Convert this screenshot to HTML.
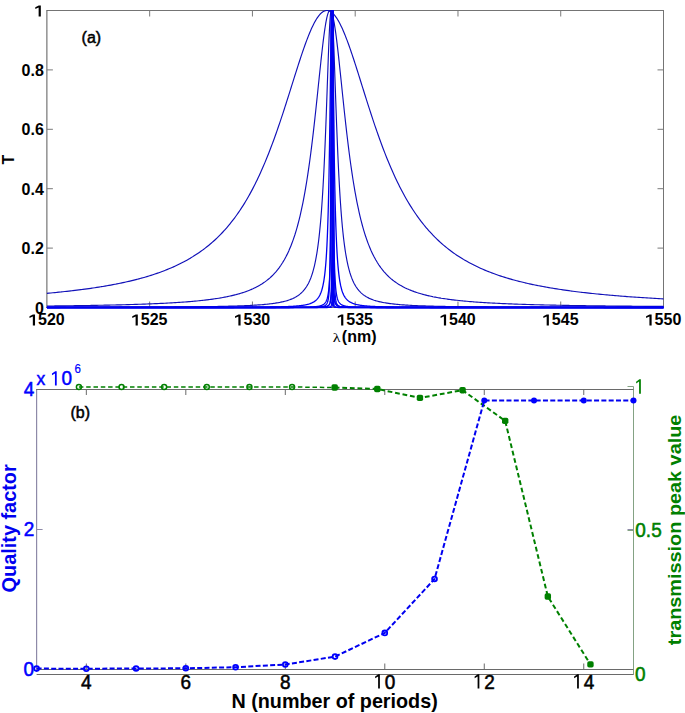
<!DOCTYPE html>
<html><head><meta charset="utf-8"><style>
html,body{margin:0;padding:0;background:#fff;width:685px;height:713px;overflow:hidden}
svg{display:block}
</style></head><body>
<svg width="685" height="713" viewBox="0 0 685 713">
<rect width="685" height="713" fill="#fff"/>
<g stroke="#747474" stroke-width="1" fill="none">
<path d="M46.4,10.5H664.0M663.5,10.5V308.0M46.4,307.5H664.0"/>
</g>
<path d="M46.9,10.5V307.5" stroke="#5a5a5a" stroke-width="1" fill="none"/>
<g stroke="#7a7a7a" stroke-width="1" fill="none">
<path d="M149.67,307.5V301.5M149.67,10.5V16.5"/>
<path d="M252.43,307.5V301.5M252.43,10.5V16.5"/>
<path d="M355.20,307.5V301.5M355.20,10.5V16.5"/>
<path d="M457.97,307.5V301.5M457.97,10.5V16.5"/>
<path d="M560.73,307.5V301.5M560.73,10.5V16.5"/>
<path d="M46.9,248.10H52.9M663.5,248.10H657.5"/>
<path d="M46.9,188.70H52.9M663.5,188.70H657.5"/>
<path d="M46.9,129.30H52.9M663.5,129.30H657.5"/>
<path d="M46.9,69.90H52.9M663.5,69.90H657.5"/>
</g>
<g fill="none" stroke="#1010b8" stroke-width="1.15" stroke-linejoin="round">
<path d="M46.90,293.32 48.90,293.14 50.85,292.96 52.90,292.77 54.90,292.58 56.23,292.45 56.90,292.38 58.90,292.18 60.90,291.97 61.53,291.91 62.90,291.77 64.90,291.55 66.77,291.35 68.90,291.11 70.90,290.88 71.94,290.76 72.90,290.65 74.90,290.41 76.90,290.17 78.90,289.92 80.90,289.67 82.07,289.52 82.90,289.41 84.90,289.14 86.90,288.87 88.90,288.59 90.90,288.31 91.93,288.16 92.90,288.02 94.90,287.72 96.75,287.43 98.90,287.10 100.90,286.78 101.52,286.68 102.90,286.45 104.90,286.11 106.21,285.89 106.90,285.77 108.90,285.41 110.84,285.06 112.90,284.68 114.90,284.30 115.41,284.20 116.90,283.91 118.90,283.50 119.91,283.30 120.90,283.09 122.90,282.67 124.34,282.36 124.90,282.23 126.90,281.79 128.71,281.37 128.90,281.33 130.90,280.86 132.90,280.38 134.90,279.88 136.90,279.37 137.27,279.27 138.90,278.84 140.90,278.30 141.45,278.15 142.90,277.75 144.90,277.18 145.57,276.98 146.90,276.59 148.90,275.99 149.63,275.76 150.90,275.36 152.90,274.72 153.63,274.48 154.90,274.06 156.90,273.38 157.57,273.15 158.90,272.68 160.90,271.95 161.44,271.75 162.90,271.21 164.90,270.44 165.26,270.30 166.90,269.65 168.90,268.83 170.90,267.98 172.72,267.19 172.90,267.11 174.90,266.21 176.36,265.54 176.90,265.28 178.90,264.32 179.95,263.81 180.90,263.33 182.90,262.30 183.47,262.00 184.90,261.24 186.90,260.15 188.90,259.01 190.36,258.16 190.90,257.84 192.90,256.62 193.71,256.11 194.90,255.36 196.90,254.06 198.90,252.71 200.26,251.76 200.90,251.31 202.90,249.86 203.46,249.45 204.90,248.36 206.59,247.04 206.90,246.80 208.90,245.18 209.68,244.53 210.90,243.50 212.71,241.93 212.90,241.76 214.90,239.95 215.69,239.22 216.90,238.08 218.62,236.41 218.90,236.13 220.90,234.11 221.49,233.49 222.90,232.00 224.31,230.47 224.90,229.82 226.90,227.55 227.09,227.33 228.90,225.19 229.81,224.09 230.90,222.73 232.48,220.73 232.90,220.18 234.90,217.53 235.10,217.26 236.90,214.77 237.68,213.67 238.90,211.91 240.20,209.98 240.90,208.92 242.68,206.17 242.90,205.82 244.90,202.60 245.11,202.26 246.90,199.24 247.49,198.23 248.90,195.76 249.82,194.10 250.90,192.13 252.11,189.87 252.90,188.37 254.36,185.54 254.90,184.46 256.56,181.11 256.90,180.40 258.71,176.60 258.90,176.19 260.82,172.00 260.90,171.82 262.88,167.33 264.90,162.61 266.88,157.80 268.82,152.95 268.90,152.74 270.71,148.06 270.90,147.56 272.56,143.13 272.90,142.23 274.38,138.19 274.90,136.74 276.15,133.24 276.90,131.09 277.88,128.29 278.90,125.31 279.57,123.35 280.90,119.39 281.22,118.44 282.83,113.56 282.90,113.34 284.40,108.73 284.90,107.19 285.94,103.96 286.90,100.95 287.44,99.26 288.90,94.64 290.32,90.11 290.90,88.28 291.71,85.69 292.90,81.90 293.07,81.38 294.38,77.18 294.90,75.54 295.67,73.11 296.90,69.23 298.13,65.38 298.90,63.00 299.31,61.73 300.46,58.22 300.90,56.90 301.58,54.87 302.67,51.66 302.90,50.98 303.72,48.61 304.74,45.72 304.90,45.27 305.73,42.97 306.69,40.38 306.90,39.84 307.63,37.93 308.53,35.64 308.90,34.72 309.40,33.48 310.25,31.47 310.90,29.97 311.07,29.59 311.86,27.83 312.63,26.21 312.90,25.64 313.36,24.70 314.08,23.31 314.76,22.03 314.90,21.78 315.43,20.85 316.06,19.76 316.68,18.77 316.90,18.42 317.27,17.87 317.83,17.05 318.38,16.30 318.90,15.62 319.40,15.01 319.88,14.46 320.33,13.97 320.77,13.53 321.19,13.13 321.59,12.78 321.97,12.47 322.33,12.19 322.67,11.95 322.90,11.80 323.30,11.55 323.60,11.39 323.87,11.25 324.13,11.12 324.37,11.02 324.60,10.93 324.82,10.85 325.02,10.79 325.21,10.73 325.38,10.69 325.55,10.65 325.70,10.62 325.96,10.57 326.19,10.54 326.37,10.52 326.52,10.51 326.69,10.50 326.84,10.50 327.00,10.50 327.16,10.51 327.35,10.52 327.52,10.53 327.72,10.55 327.96,10.59 328.25,10.65 328.42,10.69 328.59,10.73 328.78,10.79 328.98,10.85 329.20,10.93 329.43,11.02 329.67,11.12 329.93,11.25 330.20,11.39 330.50,11.55 330.80,11.74 331.13,11.95 331.47,12.19 331.83,12.47 332.21,12.78 332.61,13.13 332.90,13.40 333.47,13.97 333.92,14.46 334.40,15.01 334.90,15.62 335.42,16.30 335.97,17.05 336.53,17.87 336.90,18.42 337.12,18.77 337.74,19.76 338.38,20.85 338.90,21.78 339.04,22.03 339.72,23.31 340.44,24.70 340.90,25.64 341.17,26.21 341.94,27.84 342.73,29.59 342.90,29.98 343.55,31.47 344.39,33.49 344.90,34.73 345.27,35.65 346.17,37.95 346.90,39.85 347.11,40.40 348.07,42.99 348.90,45.30 349.06,45.74 350.08,48.64 350.90,51.01 351.13,51.70 352.22,54.91 352.90,56.95 353.34,58.27 354.49,61.78 354.90,63.06 355.67,65.44 356.88,69.24 358.13,73.19 358.90,75.63 359.42,77.27 360.73,81.47 360.90,82.01 362.09,85.80 362.90,88.40 363.48,90.24 364.90,94.78 366.36,99.41 366.90,101.11 367.86,104.13 368.90,107.38 369.40,108.92 370.90,113.55 370.97,113.77 372.58,118.67 372.90,119.62 374.23,123.60 374.90,125.57 375.92,128.56 376.90,131.38 377.65,133.54 378.90,137.05 379.42,138.51 380.90,142.57 381.24,143.48 382.90,147.94 383.09,148.43 384.90,153.14 384.98,153.35 386.90,158.18 388.90,163.05 390.90,167.78 392.90,172.34 392.98,172.52 394.90,176.73 395.09,177.14 396.90,180.97 397.24,181.69 398.90,185.06 399.44,186.14 400.90,189.00 401.69,190.50 402.90,192.79 403.98,194.77 404.90,196.44 406.31,198.93 406.90,199.95 408.69,202.98 408.90,203.33 410.90,206.58 411.12,206.93 412.90,209.70 413.60,210.77 414.90,212.71 416.12,214.49 416.90,215.60 418.70,218.10 418.90,218.38 420.90,221.05 421.32,221.60 422.90,223.63 423.99,224.99 424.90,226.10 426.71,228.26 426.90,228.48 428.90,230.77 429.49,231.43 430.90,232.97 432.31,234.48 432.90,235.10 434.90,237.14 435.19,237.42 436.90,239.10 438.11,240.26 438.90,241.00 440.90,242.82 441.09,242.99 442.90,244.58 444.12,245.62 444.90,246.27 446.90,247.90 447.21,248.15 448.90,249.48 450.34,250.58 450.90,250.99 452.90,252.46 453.54,252.91 454.90,253.87 456.78,255.16 458.90,256.55 460.09,257.31 460.90,257.82 462.90,259.05 463.44,259.38 464.90,260.24 466.86,261.36 468.90,262.49 470.33,263.26 470.90,263.56 472.90,264.60 473.85,265.08 474.90,265.60 476.90,266.57 477.44,266.83 478.90,267.51 480.90,268.42 481.08,268.50 482.90,269.30 484.78,270.10 486.90,270.98 488.54,271.64 488.90,271.78 490.90,272.56 492.36,273.11 492.90,273.31 494.90,274.04 496.23,274.52 496.90,274.75 498.90,275.44 500.17,275.87 500.90,276.11 502.90,276.75 504.17,277.16 504.90,277.38 506.90,278.00 508.23,278.39 508.90,278.59 510.90,279.17 512.35,279.58 512.90,279.73 514.90,280.27 516.53,280.71 516.90,280.81 518.90,281.32 520.78,281.79 522.90,282.31 524.90,282.79 525.09,282.83 526.90,283.25 528.90,283.70 529.46,283.83 530.90,284.14 532.90,284.57 533.89,284.78 534.90,284.99 536.90,285.39 538.39,285.69 538.90,285.79 540.90,286.17 542.90,286.55 544.90,286.92 546.90,287.27 547.59,287.39 548.90,287.62 550.90,287.96 552.28,288.19 552.90,288.30 554.90,288.62 556.90,288.94 558.90,289.25 560.90,289.55 561.87,289.69 562.90,289.84 564.90,290.13 566.77,290.39 568.90,290.69 570.90,290.96 571.73,291.07 572.90,291.22 574.90,291.48 576.76,291.71 578.90,291.97 580.90,292.21 581.86,292.33 582.90,292.45 584.90,292.68 586.90,292.91 588.90,293.13 590.90,293.34 592.26,293.49 592.90,293.55 594.90,293.76 596.90,293.96 597.57,294.03 598.90,294.16 600.90,294.36 602.90,294.55 604.90,294.73 606.90,294.92 608.40,295.05 608.90,295.09 610.90,295.27 612.90,295.44 613.92,295.53 614.90,295.61 616.90,295.78 618.90,295.94 619.51,295.99 620.90,296.10 622.90,296.25 624.90,296.41 625.17,296.43 626.90,296.56 628.90,296.70 630.90,296.85 632.90,296.99 634.90,297.13 636.72,297.25 636.90,297.27 638.90,297.40 640.90,297.53 642.60,297.64 642.90,297.66 644.90,297.79 646.90,297.91 648.56,298.02 648.90,298.04 650.90,298.16 652.90,298.28 654.59,298.37 654.90,298.39 656.90,298.51 658.90,298.62 660.69,298.72 660.90,298.73 662.90,298.84 663.50,298.87"/>
<path d="M46.90,306.03 48.50,306.01 48.90,306.00 50.90,305.98 52.90,305.96 53.95,305.95 54.90,305.94 56.90,305.92 58.90,305.89 59.33,305.89 60.90,305.87 62.90,305.84 64.64,305.82 64.90,305.82 66.90,305.79 68.90,305.77 69.87,305.75 70.90,305.74 72.90,305.71 74.90,305.69 76.90,305.66 78.90,305.63 80.14,305.61 80.90,305.60 82.90,305.57 84.90,305.54 85.17,305.53 86.90,305.50 88.90,305.47 90.13,305.45 90.90,305.44 92.90,305.40 94.90,305.37 96.90,305.33 98.90,305.29 99.86,305.27 100.90,305.25 102.90,305.21 104.62,305.18 104.90,305.17 106.90,305.13 108.90,305.09 109.31,305.08 110.90,305.05 112.90,305.00 113.94,304.98 114.90,304.95 116.90,304.91 118.51,304.87 118.90,304.86 120.90,304.81 122.90,304.76 124.90,304.70 126.90,304.65 127.44,304.63 128.90,304.59 130.90,304.53 131.81,304.51 132.90,304.47 134.90,304.41 136.12,304.37 136.90,304.35 138.90,304.28 140.37,304.23 140.90,304.21 142.90,304.14 144.55,304.09 144.90,304.07 146.90,304.00 148.67,303.93 148.90,303.92 150.90,303.84 152.73,303.77 152.90,303.76 154.90,303.68 156.73,303.60 156.90,303.59 158.90,303.50 160.67,303.41 160.90,303.40 162.90,303.31 164.54,303.22 164.90,303.20 166.90,303.10 168.36,303.02 168.90,302.99 170.90,302.88 172.12,302.81 172.90,302.76 174.90,302.64 175.82,302.59 176.90,302.52 178.90,302.39 179.46,302.35 180.90,302.25 182.90,302.11 184.90,301.96 186.57,301.84 186.90,301.81 188.90,301.65 190.04,301.56 190.90,301.48 192.90,301.31 193.46,301.26 194.90,301.13 196.81,300.95 198.90,300.75 200.12,300.62 200.90,300.54 202.90,300.32 203.36,300.27 204.90,300.10 206.56,299.90 206.90,299.86 208.90,299.61 209.69,299.51 210.90,299.35 212.78,299.10 214.90,298.80 215.81,298.66 216.90,298.49 218.79,298.20 220.90,297.84 221.72,297.70 222.90,297.49 224.59,297.18 224.90,297.12 226.90,296.73 227.41,296.62 228.90,296.31 230.19,296.04 230.90,295.88 232.90,295.41 234.90,294.92 235.58,294.75 236.90,294.40 238.20,294.04 238.90,293.84 240.78,293.29 242.90,292.62 243.30,292.49 244.90,291.95 245.78,291.65 246.90,291.24 248.21,290.74 248.90,290.47 250.59,289.78 250.90,289.65 252.90,288.77 254.90,287.83 255.21,287.68 256.90,286.82 257.46,286.52 258.90,285.72 259.66,285.29 260.90,284.54 261.81,283.98 262.90,283.27 263.92,282.58 264.90,281.89 265.98,281.09 266.90,280.39 268.00,279.50 268.90,278.76 269.98,277.82 270.90,276.98 271.92,276.02 272.90,275.04 273.81,274.10 274.90,272.93 275.67,272.06 276.90,270.60 277.48,269.89 278.90,268.05 279.25,267.58 280.90,265.23 282.67,262.51 282.90,262.13 284.32,259.73 284.90,258.69 285.93,256.78 286.90,254.88 287.50,253.65 288.90,250.64 289.04,250.32 290.54,246.80 290.90,245.91 292.00,243.08 292.90,240.62 293.42,239.14 294.81,234.98 294.90,234.71 296.17,230.59 296.90,228.07 297.48,225.98 298.77,221.13 298.90,220.61 300.02,216.04 300.90,212.22 301.23,210.73 302.41,205.17 302.90,202.78 303.56,199.39 304.68,193.39 304.90,192.16 305.76,187.18 306.82,180.76 306.90,180.25 307.84,174.17 308.83,167.41 308.90,166.94 309.80,160.51 310.73,153.50 310.90,152.17 311.63,146.40 312.50,139.25 312.90,135.93 313.35,132.06 314.17,124.90 314.90,118.33 314.96,117.77 315.73,110.73 316.46,103.80 316.90,99.67 317.18,97.02 317.86,90.44 318.52,84.06 318.90,80.44 319.16,77.91 319.78,72.03 320.37,66.44 320.90,61.44 320.93,61.14 321.48,56.16 322.00,51.48 322.50,47.13 322.90,43.74 322.98,43.10 323.43,39.40 323.87,35.99 324.29,32.88 324.69,30.07 324.90,28.63 325.07,27.53 325.43,25.25 325.77,23.21 326.10,21.40 326.40,19.80 326.69,18.39 326.90,17.47 326.97,17.16 327.23,16.09 327.47,15.16 327.70,14.36 327.92,13.68 328.12,13.10 328.31,12.61 328.48,12.20 328.64,11.86 328.80,11.57 328.90,11.40 329.06,11.15 329.18,11.00 329.38,10.78 329.55,10.65 329.74,10.55 329.90,10.51 330.06,10.50 330.21,10.53 330.38,10.61 330.62,10.78 330.82,11.00 330.94,11.15 331.06,11.34 331.20,11.57 331.36,11.86 331.52,12.20 331.69,12.61 331.88,13.10 332.08,13.68 332.30,14.36 332.53,15.16 332.77,16.09 332.90,16.62 333.03,17.16 333.31,18.39 333.60,19.80 333.90,21.40 334.23,23.21 334.57,25.25 334.90,27.32 334.93,27.53 335.31,30.07 335.71,32.88 336.13,35.99 336.57,39.40 336.90,42.09 337.02,43.10 337.50,47.13 338.00,51.48 338.52,56.16 338.90,59.59 339.07,61.14 339.63,66.44 340.22,72.03 340.84,77.91 340.90,78.51 341.48,84.06 342.14,90.44 342.82,97.02 342.90,97.76 343.54,103.80 344.27,110.73 344.90,116.51 345.04,117.77 345.83,124.90 346.65,132.06 346.90,134.22 347.50,139.25 348.37,146.40 348.90,150.61 349.27,153.50 350.20,160.51 350.90,165.53 351.17,167.41 352.16,174.17 352.90,178.99 353.18,180.76 354.24,187.18 354.90,191.03 355.32,193.39 356.44,199.39 356.90,201.77 357.59,205.17 358.77,210.73 358.90,211.32 359.98,216.04 360.90,219.81 361.23,221.13 362.52,225.98 362.90,227.36 363.83,230.59 364.90,234.08 365.19,234.98 366.58,239.14 366.90,240.06 368.00,243.08 368.90,245.41 369.46,246.80 370.90,250.19 372.50,253.65 372.90,254.47 374.07,256.78 374.90,258.33 375.68,259.73 376.90,261.80 377.33,262.51 378.90,264.94 379.02,265.12 380.75,267.58 380.90,267.78 382.52,269.89 382.90,270.36 384.33,272.06 384.90,272.70 386.19,274.10 386.90,274.84 388.08,276.02 388.90,276.80 390.02,277.82 390.90,278.59 392.00,279.50 392.90,280.23 394.02,281.09 394.90,281.74 396.08,282.58 396.90,283.13 398.19,283.98 398.90,284.42 400.34,285.29 400.90,285.61 402.54,286.52 402.90,286.71 404.79,287.68 406.90,288.68 407.07,288.76 408.90,289.57 409.41,289.78 410.90,290.39 411.79,290.74 412.90,291.16 414.22,291.65 414.90,291.88 416.70,292.49 416.90,292.56 418.90,293.19 419.22,293.29 420.90,293.79 421.80,294.04 422.90,294.34 424.42,294.75 424.90,294.87 426.90,295.36 427.09,295.41 428.90,295.83 429.81,296.04 430.90,296.27 432.59,296.62 432.90,296.69 434.90,297.08 435.41,297.18 436.90,297.46 438.29,297.70 438.90,297.81 440.90,298.14 441.21,298.20 442.90,298.46 444.19,298.66 444.90,298.77 446.90,299.05 447.22,299.10 448.90,299.33 450.31,299.51 450.90,299.59 452.90,299.84 453.44,299.90 454.90,300.08 456.64,300.27 456.90,300.30 458.90,300.52 459.88,300.62 460.90,300.72 462.90,300.92 463.19,300.95 464.90,301.11 466.54,301.26 466.90,301.29 468.90,301.47 469.96,301.56 470.90,301.63 472.90,301.79 473.43,301.84 474.90,301.95 476.90,302.09 478.90,302.24 480.54,302.35 480.90,302.37 482.90,302.50 484.18,302.59 484.90,302.63 486.90,302.75 487.88,302.81 488.90,302.87 490.90,302.98 491.64,303.02 492.90,303.09 494.90,303.19 495.46,303.22 496.90,303.30 498.90,303.39 499.33,303.41 500.90,303.49 502.90,303.58 503.27,303.60 504.90,303.67 506.90,303.75 507.27,303.77 508.90,303.83 510.90,303.91 511.33,303.93 512.90,303.99 514.90,304.07 515.45,304.09 516.90,304.14 518.90,304.21 519.63,304.23 520.90,304.28 522.90,304.34 523.88,304.37 524.90,304.41 526.90,304.47 528.19,304.51 528.90,304.53 530.90,304.59 532.56,304.63 532.90,304.64 534.90,304.70 536.90,304.75 538.90,304.80 540.90,304.85 541.49,304.87 542.90,304.90 544.90,304.95 546.06,304.98 546.90,305.00 548.90,305.04 550.69,305.08 550.90,305.09 552.90,305.13 554.90,305.17 555.38,305.18 556.90,305.21 558.90,305.25 560.14,305.27 560.90,305.29 562.90,305.33 564.90,305.36 566.90,305.40 568.90,305.43 569.87,305.45 570.90,305.47 572.90,305.50 574.83,305.53 576.90,305.56 578.90,305.59 579.86,305.61 580.90,305.62 582.90,305.65 584.90,305.68 586.90,305.71 588.90,305.74 590.13,305.75 590.90,305.76 592.90,305.79 594.90,305.82 595.37,305.82 596.90,305.84 598.90,305.87 600.67,305.89 600.90,305.89 602.90,305.91 604.90,305.94 606.05,305.95 606.90,305.96 608.90,305.98 610.90,306.00 611.50,306.01 612.90,306.02 614.90,306.04 616.90,306.06 618.90,306.08 620.90,306.10 622.61,306.12 622.90,306.12 624.90,306.14 626.90,306.16 628.27,306.17 628.90,306.18 630.90,306.19 632.90,306.21 634.01,306.22 634.90,306.23 636.90,306.24 638.90,306.26 639.82,306.27 640.90,306.28 642.90,306.29 644.90,306.31 645.70,306.31 646.90,306.32 648.90,306.34 650.90,306.35 651.66,306.36 652.90,306.36 654.90,306.38 656.90,306.39 657.69,306.40 658.90,306.41 660.90,306.42 662.90,306.43 663.50,306.44"/>
<path d="M46.90,307.33 48.90,307.33 50.90,307.33 52.90,307.32 54.90,307.32 56.90,307.32 58.90,307.31 59.25,307.31 60.90,307.31 62.90,307.31 63.31,307.31 64.90,307.31 66.90,307.30 67.33,307.30 68.90,307.30 70.90,307.30 71.31,307.30 72.90,307.29 74.90,307.29 75.25,307.29 76.90,307.29 78.90,307.28 79.14,307.28 80.90,307.28 82.90,307.28 84.90,307.27 86.82,307.27 88.90,307.27 90.60,307.26 90.90,307.26 92.90,307.26 94.34,307.26 94.90,307.25 96.90,307.25 98.04,307.25 98.90,307.25 100.90,307.24 101.71,307.24 102.90,307.24 104.90,307.23 105.33,307.23 106.90,307.23 108.90,307.22 110.90,307.22 112.47,307.21 112.90,307.21 114.90,307.21 115.97,307.20 116.90,307.20 118.90,307.20 119.45,307.19 120.90,307.19 122.88,307.18 124.90,307.18 126.28,307.17 126.90,307.17 128.90,307.16 129.64,307.16 130.90,307.16 132.90,307.15 134.90,307.14 136.25,307.14 136.90,307.14 138.90,307.13 139.50,307.13 140.90,307.12 142.71,307.11 142.90,307.11 144.90,307.11 145.89,307.10 146.90,307.10 148.90,307.09 150.90,307.08 152.14,307.07 152.90,307.07 154.90,307.06 155.21,307.06 156.90,307.05 158.24,307.04 158.90,307.04 160.90,307.03 161.24,307.03 162.90,307.02 164.21,307.01 164.90,307.00 166.90,306.99 167.14,306.99 168.90,306.98 170.03,306.97 170.90,306.97 172.90,306.95 174.90,306.94 175.72,306.93 176.90,306.92 178.52,306.91 178.90,306.91 180.90,306.89 181.28,306.89 182.90,306.88 184.00,306.87 184.90,306.86 186.70,306.84 186.90,306.84 188.90,306.82 189.36,306.82 190.90,306.80 191.99,306.79 192.90,306.78 194.58,306.77 194.90,306.76 196.90,306.74 197.14,306.74 198.90,306.72 199.67,306.71 200.90,306.69 202.17,306.68 202.90,306.67 204.64,306.65 204.90,306.64 206.90,306.61 207.07,306.61 208.90,306.59 209.48,306.58 210.90,306.55 211.85,306.54 212.90,306.52 214.19,306.50 214.90,306.49 216.50,306.46 216.90,306.45 218.78,306.42 220.90,306.38 222.90,306.33 223.25,306.33 224.90,306.29 225.44,306.28 226.90,306.24 227.60,306.23 228.90,306.19 229.73,306.17 230.90,306.14 231.83,306.12 232.90,306.09 233.90,306.06 234.90,306.03 235.94,306.00 236.90,305.97 237.95,305.93 238.90,305.90 239.94,305.86 240.90,305.83 241.90,305.79 242.90,305.75 243.82,305.71 244.90,305.67 245.72,305.63 246.90,305.58 247.60,305.55 248.90,305.49 249.44,305.46 250.90,305.39 251.26,305.37 252.90,305.28 253.05,305.27 254.81,305.17 256.55,305.06 256.90,305.04 258.26,304.94 258.90,304.90 259.95,304.82 260.90,304.75 261.61,304.70 262.90,304.59 263.24,304.56 264.84,304.42 266.43,304.27 266.90,304.22 267.98,304.11 268.90,304.01 269.51,303.94 270.90,303.78 272.50,303.57 272.90,303.52 273.95,303.37 274.90,303.24 275.39,303.16 276.80,302.94 278.18,302.70 278.90,302.57 279.54,302.45 280.88,302.18 282.19,301.90 282.90,301.74 283.48,301.60 284.75,301.28 286.00,300.94 286.90,300.68 287.22,300.58 288.42,300.20 288.90,300.04 289.60,299.79 290.75,299.35 291.89,298.89 292.90,298.45 294.10,297.87 294.90,297.46 295.17,297.31 296.22,296.71 296.90,296.30 297.25,296.08 298.26,295.40 298.90,294.93 299.25,294.67 300.22,293.89 300.90,293.30 301.17,293.06 302.10,292.17 302.90,291.34 303.90,290.21 304.77,289.12 304.90,288.96 305.63,287.96 306.46,286.71 306.90,286.01 307.28,285.38 308.08,283.95 308.86,282.42 309.62,280.78 310.37,279.02 310.90,277.67 311.10,277.14 311.81,275.12 312.50,272.97 312.90,271.64 313.18,270.65 313.84,268.18 314.49,265.53 314.90,263.70 315.12,262.70 315.73,259.68 316.32,256.45 316.90,253.04 317.47,249.33 318.02,245.41 318.56,241.24 318.90,238.41 319.08,236.83 319.59,232.14 320.08,227.18 320.56,221.95 320.90,217.95 321.02,216.44 321.48,210.64 321.91,204.57 322.34,198.23 322.75,191.63 322.90,189.07 323.15,184.77 323.53,177.69 323.91,170.41 324.27,162.94 324.62,155.33 324.90,148.85 324.95,147.61 325.28,139.80 325.59,131.98 325.90,124.16 326.19,116.40 326.47,108.75 326.74,101.23 326.90,96.75 327.00,93.93 327.25,86.85 327.49,80.04 327.72,73.55 327.94,67.36 328.15,61.55 328.35,56.10 328.55,51.02 328.73,46.34 328.90,42.19 328.91,42.02 329.07,38.09 329.23,34.52 329.38,31.30 329.53,28.40 329.66,25.82 329.79,23.55 329.91,21.54 330.03,19.79 330.14,18.26 330.24,16.95 330.33,15.82 330.42,14.85 330.50,14.03 330.58,13.35 330.65,12.78 330.72,12.30 330.78,11.91 330.84,11.60 330.89,11.34 330.94,11.14 330.98,10.97 331.05,10.75 331.13,10.58 331.30,10.51 331.42,10.68 331.48,10.85 331.56,11.14 331.61,11.34 331.66,11.60 331.72,11.91 331.78,12.30 331.85,12.78 331.92,13.35 332.00,14.03 332.08,14.85 332.17,15.82 332.26,16.95 332.36,18.26 332.47,19.79 332.59,21.54 332.71,23.55 332.84,25.82 332.90,27.01 332.97,28.40 333.12,31.30 333.27,34.52 333.43,38.09 333.59,42.02 333.77,46.34 333.95,51.02 334.15,56.10 334.35,61.55 334.56,67.36 334.78,73.55 334.90,76.93 335.01,80.04 335.25,86.85 335.50,93.93 335.76,101.23 336.03,108.75 336.31,116.40 336.60,124.16 336.90,131.80 336.91,131.98 337.22,139.80 337.55,147.61 337.88,155.33 338.23,162.94 338.59,170.41 338.90,176.41 338.97,177.69 339.35,184.77 339.75,191.63 340.16,198.23 340.59,204.57 340.90,208.96 341.02,210.64 341.48,216.44 341.94,221.95 342.42,227.18 342.90,232.03 343.42,236.83 343.94,241.24 344.48,245.41 344.90,248.45 345.03,249.33 345.59,253.00 346.18,256.45 346.77,259.68 346.90,260.33 347.38,262.70 348.01,265.53 348.66,268.18 348.90,269.11 349.32,270.65 350.00,272.97 350.69,275.12 350.90,275.74 351.40,277.14 352.13,279.02 352.88,280.78 353.64,282.42 354.42,283.95 354.90,284.82 355.22,285.38 356.04,286.71 356.87,287.96 357.73,289.12 358.60,290.21 358.90,290.56 359.49,291.22 360.40,292.17 360.90,292.66 361.33,293.06 362.28,293.89 362.90,294.40 363.25,294.67 364.24,295.40 364.90,295.85 365.25,296.08 366.28,296.71 366.90,297.07 367.33,297.31 368.40,297.87 368.90,298.12 369.50,298.40 370.61,298.89 370.90,299.01 371.75,299.35 372.90,299.79 374.08,300.20 374.90,300.46 375.28,300.58 376.50,300.94 376.90,301.05 377.75,301.28 378.90,301.57 380.31,301.90 380.90,302.03 381.62,302.18 382.90,302.44 384.32,302.70 384.90,302.80 385.70,302.94 386.90,303.13 387.11,303.16 388.55,303.37 388.90,303.42 390.00,303.57 390.90,303.69 391.48,303.76 392.90,303.93 394.52,304.11 394.90,304.15 396.07,304.27 396.90,304.35 397.66,304.42 398.90,304.53 399.26,304.56 400.89,304.70 402.55,304.82 402.90,304.85 404.24,304.94 404.90,304.99 405.95,305.06 406.90,305.12 407.69,305.17 408.90,305.24 409.45,305.27 410.90,305.35 411.24,305.37 412.90,305.45 413.06,305.46 414.90,305.55 416.78,305.63 418.68,305.71 418.90,305.72 420.60,305.79 420.90,305.80 422.56,305.86 422.90,305.87 424.55,305.93 424.90,305.94 426.56,306.00 426.90,306.01 428.60,306.06 428.90,306.07 430.67,306.12 430.90,306.12 432.77,306.17 434.90,306.23 436.90,306.27 437.06,306.28 438.90,306.32 439.25,306.33 440.90,306.36 441.47,306.37 442.90,306.40 443.72,306.42 444.90,306.44 446.00,306.46 446.90,306.48 448.31,306.50 448.90,306.51 450.65,306.54 450.90,306.54 452.90,306.57 454.90,306.60 455.43,306.61 456.90,306.63 457.86,306.65 458.90,306.66 460.33,306.68 460.90,306.69 462.83,306.71 464.90,306.73 465.36,306.74 466.90,306.76 467.92,306.77 468.90,306.78 470.51,306.79 470.90,306.80 472.90,306.82 473.14,306.82 474.90,306.84 475.80,306.84 476.90,306.85 478.50,306.87 478.90,306.87 480.90,306.89 481.22,306.89 482.90,306.90 483.98,306.91 484.90,306.92 486.78,306.93 488.90,306.95 489.60,306.95 490.90,306.96 492.46,306.97 492.90,306.98 494.90,306.99 495.36,306.99 496.90,307.00 498.29,307.01 498.90,307.01 500.90,307.02 501.26,307.03 502.90,307.03 504.26,307.04 504.90,307.05 506.90,307.06 507.29,307.06 508.90,307.07 510.36,307.07 510.90,307.08 512.90,307.08 513.47,307.09 514.90,307.09 516.61,307.10 516.90,307.10 518.90,307.11 519.79,307.11 520.90,307.12 522.90,307.13 524.90,307.13 526.25,307.14 526.90,307.14 528.90,307.15 529.54,307.15 530.90,307.16 532.86,307.16 534.90,307.17 536.22,307.17 536.90,307.18 538.90,307.18 539.62,307.18 540.90,307.19 542.90,307.19 543.05,307.19 544.90,307.20 546.52,307.20 546.90,307.20 548.90,307.21 550.03,307.21 550.90,307.22 552.90,307.22 553.58,307.22 554.90,307.23 556.90,307.23 557.17,307.23 558.90,307.24 560.79,307.24 562.90,307.24 564.46,307.25 564.90,307.25 566.90,307.25 568.16,307.26 568.90,307.26 570.90,307.26 571.90,307.26 572.90,307.27 574.90,307.27 575.68,307.27 576.90,307.27 578.90,307.28 579.50,307.28 580.90,307.28 582.90,307.28 583.36,307.28 584.90,307.29 586.90,307.29 587.25,307.29 588.90,307.29 590.90,307.30 591.19,307.30 592.90,307.30 594.90,307.30 595.17,307.30 596.90,307.31 598.90,307.31 599.19,307.31 600.90,307.31 602.90,307.31 603.25,307.31 604.90,307.32 606.90,307.32 608.90,307.32 610.90,307.32 612.90,307.33 614.90,307.33 616.90,307.33 618.90,307.33 620.90,307.34 622.90,307.34 624.90,307.34 626.90,307.34 628.90,307.35 630.90,307.35 632.90,307.35 634.90,307.35 636.90,307.35 638.90,307.35 640.90,307.36 642.90,307.36 644.90,307.36 646.90,307.36 648.90,307.36 650.90,307.37 652.90,307.37 654.90,307.37 656.90,307.37 658.90,307.37 660.90,307.37 662.90,307.38 663.50,307.38"/>
</g>
<g fill="none" stroke="#0000f0" stroke-width="1.3" stroke-linejoin="round">
<path d="M46.90,307.48 48.90,307.48 50.90,307.48 52.90,307.48 54.90,307.48 56.90,307.48 58.90,307.48 60.90,307.47 62.90,307.47 64.90,307.47 66.90,307.47 68.90,307.47 70.90,307.47 72.90,307.47 74.90,307.47 76.90,307.47 78.90,307.47 80.90,307.47 82.90,307.47 84.90,307.47 86.90,307.47 88.90,307.47 90.90,307.47 92.90,307.47 94.90,307.47 96.90,307.47 98.90,307.47 100.90,307.47 102.90,307.46 104.90,307.46 106.90,307.46 108.90,307.46 110.90,307.46 112.90,307.46 114.90,307.46 116.90,307.46 118.90,307.46 120.90,307.46 122.90,307.46 124.90,307.46 126.90,307.46 128.90,307.45 130.90,307.45 132.90,307.45 134.90,307.45 136.90,307.45 138.90,307.45 140.90,307.45 142.90,307.45 144.90,307.45 146.90,307.45 148.90,307.44 150.90,307.44 152.90,307.44 154.90,307.44 156.90,307.44 158.90,307.44 160.90,307.44 162.90,307.43 164.90,307.43 166.90,307.43 168.90,307.43 170.90,307.43 172.90,307.43 174.90,307.42 176.90,307.42 178.90,307.42 180.90,307.42 182.90,307.42 184.90,307.41 186.90,307.41 188.90,307.41 190.90,307.41 192.90,307.40 194.90,307.40 196.90,307.40 198.90,307.39 200.90,307.39 202.90,307.39 204.90,307.38 206.90,307.38 208.90,307.38 210.90,307.37 212.90,307.37 214.90,307.36 216.90,307.36 218.90,307.35 220.90,307.35 222.90,307.34 224.90,307.34 226.90,307.33 228.90,307.32 230.90,307.32 231.80,307.31 232.90,307.31 233.29,307.31 234.77,307.30 236.23,307.30 236.90,307.29 237.68,307.29 238.90,307.29 239.11,307.28 240.53,307.28 240.90,307.28 241.94,307.27 242.90,307.27 243.33,307.26 244.70,307.26 244.90,307.25 246.06,307.25 246.90,307.24 247.41,307.24 248.74,307.23 248.90,307.23 250.06,307.22 250.90,307.22 251.36,307.21 252.66,307.20 252.90,307.20 253.93,307.19 254.90,307.19 255.19,307.18 256.44,307.17 256.90,307.17 257.68,307.16 258.90,307.15 260.11,307.14 260.90,307.13 261.30,307.13 262.49,307.11 262.90,307.11 263.65,307.10 264.81,307.09 265.95,307.07 266.90,307.06 267.08,307.06 268.19,307.04 268.90,307.03 269.30,307.03 270.39,307.01 270.90,307.00 271.46,306.99 272.53,306.97 272.90,306.97 273.58,306.95 274.62,306.93 274.90,306.93 275.65,306.91 276.66,306.89 276.90,306.89 277.67,306.87 278.66,306.84 278.90,306.84 279.63,306.82 280.60,306.79 280.90,306.79 281.55,306.77 282.50,306.74 282.90,306.73 283.43,306.71 284.35,306.68 284.90,306.66 285.25,306.65 286.15,306.61 286.90,306.58 287.90,306.54 288.76,306.50 289.61,306.46 290.45,306.42 290.90,306.39 291.28,306.37 292.09,306.33 292.90,306.28 293.69,306.23 294.48,306.17 294.90,306.14 295.25,306.12 296.01,306.06 296.76,306.00 297.50,305.93 298.23,305.86 298.90,305.79 299.66,305.71 300.36,305.63 300.90,305.57 301.72,305.46 302.39,305.37 302.90,305.29 303.05,305.27 303.70,305.17 304.34,305.06 304.90,304.96 305.59,304.82 306.19,304.70 306.80,304.56 307.39,304.42 307.97,304.27 308.54,304.11 308.90,304.00 309.10,303.94 309.65,303.76 310.20,303.57 310.74,303.37 310.90,303.31 311.26,303.16 311.78,302.94 312.29,302.70 312.79,302.45 313.28,302.18 313.76,301.90 314.24,301.60 314.70,301.28 314.90,301.14 315.16,300.94 315.61,300.58 316.05,300.20 316.49,299.79 316.90,299.37 317.33,298.89 317.74,298.40 318.14,297.87 318.54,297.31 318.90,296.75 319.30,296.08 319.67,295.40 320.04,294.67 320.39,293.89 320.74,293.06 320.90,292.66 321.08,292.17 321.42,291.22 321.75,290.21 322.07,289.12 322.38,287.96 322.69,286.71 322.90,285.78 322.99,285.38 323.28,283.95 323.57,282.42 323.85,280.78 324.12,279.02 324.39,277.14 324.65,275.12 324.90,273.04 325.16,270.65 325.40,268.18 325.64,265.53 325.87,262.70 326.09,259.68 326.31,256.44 326.53,252.99 326.74,249.32 326.90,246.16 326.94,245.42 327.13,241.26 327.33,236.83 327.51,232.16 327.69,227.17 327.87,221.94 328.04,216.45 328.21,210.65 328.37,204.58 328.52,198.24 328.67,191.64 328.82,184.77 328.90,180.88 328.96,177.68 329.10,170.41 329.23,162.93 329.36,155.33 329.49,147.61 329.61,139.79 329.72,131.99 329.83,124.13 329.94,116.40 330.04,108.77 330.14,101.23 330.24,93.89 330.33,86.88 330.42,80.02 330.50,73.56 330.58,67.40 330.66,61.55 330.74,56.12 330.81,51.04 330.87,46.33 330.90,44.58 330.94,42.06 331.00,38.09 331.06,34.49 331.11,31.30 331.17,28.39 331.22,25.82 331.26,23.55 331.31,21.53 331.35,19.78 331.39,18.28 331.43,16.93 331.46,15.80 331.50,14.86 331.53,14.03 331.55,13.35 331.58,12.78 331.61,12.30 331.63,11.92 331.65,11.59 331.67,11.34 331.68,11.14 331.70,10.97 331.73,10.75 331.76,10.58 331.87,10.75 331.90,10.97 331.92,11.14 331.93,11.34 331.95,11.59 331.97,11.92 332.00,12.30 332.02,12.78 332.05,13.35 332.07,14.03 332.11,14.86 332.14,15.80 332.17,16.93 332.21,18.28 332.25,19.78 332.29,21.53 332.34,23.55 332.38,25.82 332.43,28.39 332.49,31.30 332.54,34.49 332.60,38.09 332.66,42.06 332.73,46.33 332.79,51.04 332.87,56.12 332.90,58.67 332.94,61.55 333.02,67.40 333.10,73.56 333.18,80.02 333.27,86.88 333.36,93.97 333.46,101.23 333.56,108.77 333.66,116.40 333.77,124.13 333.88,131.99 334.00,139.79 334.12,147.61 334.24,155.33 334.37,162.93 334.50,170.41 334.64,177.68 334.78,184.77 334.90,190.46 334.93,191.64 335.08,198.24 335.23,204.58 335.39,210.65 335.56,216.45 335.73,221.94 335.91,227.17 336.09,232.16 336.27,236.83 336.47,241.26 336.66,245.42 336.87,249.32 336.90,249.96 337.07,252.99 337.29,256.44 337.51,259.68 337.73,262.70 337.96,265.53 338.20,268.18 338.44,270.65 338.69,272.96 338.90,274.74 338.95,275.12 339.21,277.14 339.48,279.02 339.75,280.78 340.03,282.42 340.32,283.95 340.61,285.38 340.90,286.66 341.22,287.96 341.53,289.12 341.85,290.21 342.18,291.22 342.52,292.17 342.86,293.06 343.21,293.89 343.56,294.67 343.93,295.40 344.30,296.08 344.68,296.72 344.90,297.06 345.06,297.31 345.46,297.87 345.86,298.40 346.27,298.89 346.69,299.36 346.90,299.58 347.11,299.79 347.55,300.20 347.99,300.58 348.44,300.94 348.89,301.28 349.36,301.60 349.84,301.90 350.32,302.18 350.81,302.45 351.31,302.70 351.82,302.94 352.34,303.16 352.86,303.37 353.40,303.57 353.94,303.76 354.50,303.94 354.90,304.06 355.06,304.11 355.63,304.27 356.21,304.42 356.81,304.56 357.40,304.70 358.01,304.82 358.63,304.94 358.90,304.99 359.26,305.06 359.90,305.17 360.55,305.27 360.90,305.32 361.21,305.37 361.88,305.46 362.56,305.55 362.90,305.59 363.24,305.63 363.94,305.71 364.65,305.79 364.90,305.82 365.37,305.86 366.10,305.93 366.84,306.00 367.59,306.06 368.35,306.12 368.90,306.16 369.12,306.17 369.91,306.23 370.70,306.28 370.90,306.29 371.51,306.33 372.32,306.37 372.90,306.41 373.15,306.42 373.99,306.46 374.84,306.50 375.70,306.54 376.57,306.58 376.90,306.59 377.45,306.61 378.35,306.65 378.90,306.67 379.25,306.68 380.17,306.71 380.90,306.73 381.10,306.74 382.05,306.77 382.90,306.79 383.97,306.82 384.90,306.84 385.93,306.87 386.90,306.89 387.95,306.91 388.90,306.93 390.02,306.95 390.90,306.97 391.07,306.97 392.13,306.99 392.90,307.00 393.21,307.01 394.30,307.03 394.90,307.03 395.41,307.04 396.52,307.06 396.90,307.06 397.65,307.07 398.79,307.09 399.95,307.10 400.90,307.11 401.12,307.11 402.30,307.13 402.90,307.13 403.49,307.14 404.70,307.15 404.90,307.15 405.92,307.16 406.90,307.17 407.16,307.17 408.41,307.18 408.90,307.19 409.67,307.19 410.90,307.20 412.24,307.21 412.90,307.22 413.54,307.22 414.86,307.23 416.19,307.24 416.90,307.24 417.54,307.25 418.90,307.26 420.27,307.26 420.90,307.27 421.66,307.27 422.90,307.28 423.07,307.28 424.49,307.28 424.90,307.29 425.92,307.29 426.90,307.29 427.37,307.30 428.83,307.30 430.31,307.31 430.90,307.31 431.80,307.31 432.90,307.32 434.90,307.33 436.90,307.33 438.90,307.34 440.90,307.34 442.90,307.35 444.90,307.35 446.90,307.36 448.90,307.36 450.90,307.37 452.90,307.37 454.90,307.38 456.90,307.38 458.90,307.39 460.90,307.39 462.90,307.39 464.90,307.40 466.90,307.40 468.90,307.40 470.90,307.40 472.90,307.41 474.90,307.41 476.90,307.41 478.90,307.41 480.90,307.42 482.90,307.42 484.90,307.42 486.90,307.42 488.90,307.42 490.90,307.43 492.90,307.43 494.90,307.43 496.90,307.43 498.90,307.43 500.90,307.44 502.90,307.44 504.90,307.44 506.90,307.44 508.90,307.44 510.90,307.44 512.90,307.44 514.90,307.44 516.90,307.45 518.90,307.45 520.90,307.45 522.90,307.45 524.90,307.45 526.90,307.45 528.90,307.45 530.90,307.45 532.90,307.45 534.90,307.46 536.90,307.46 538.90,307.46 540.90,307.46 542.90,307.46 544.90,307.46 546.90,307.46 548.90,307.46 550.90,307.46 552.90,307.46 554.90,307.46 556.90,307.46 558.90,307.46 560.90,307.46 562.90,307.47 564.90,307.47 566.90,307.47 568.90,307.47 570.90,307.47 572.90,307.47 574.90,307.47 576.90,307.47 578.90,307.47 580.90,307.47 582.90,307.47 584.90,307.47 586.90,307.47 588.90,307.47 590.90,307.47 592.90,307.47 594.90,307.47 596.90,307.47 598.90,307.47 600.90,307.47 602.90,307.47 604.90,307.48 606.90,307.48 608.90,307.48 610.90,307.48 612.90,307.48 614.90,307.48 616.90,307.48 618.90,307.48 620.90,307.48 622.90,307.48 624.90,307.48 626.90,307.48 628.90,307.48 630.90,307.48 632.90,307.48 634.90,307.48 636.90,307.48 638.90,307.48 640.90,307.48 642.90,307.48 644.90,307.48 646.90,307.48 648.90,307.48 650.90,307.48 652.90,307.48 654.90,307.48 656.90,307.48 658.90,307.48 660.90,307.48 662.90,307.48 663.50,307.48"/>
<path d="M46.90,307.50 48.90,307.50 50.90,307.50 52.90,307.50 54.90,307.50 56.90,307.50 58.90,307.50 60.90,307.50 62.90,307.50 64.90,307.50 66.90,307.50 68.90,307.50 70.90,307.50 72.90,307.50 74.90,307.50 76.90,307.50 78.90,307.50 80.90,307.50 82.90,307.50 84.90,307.50 86.90,307.50 88.90,307.50 90.90,307.50 92.90,307.50 94.90,307.50 96.90,307.50 98.90,307.50 100.90,307.50 102.90,307.50 104.90,307.50 106.90,307.50 108.90,307.50 110.90,307.50 112.90,307.50 114.90,307.49 116.90,307.49 118.90,307.49 120.90,307.49 122.90,307.49 124.90,307.49 126.90,307.49 128.90,307.49 130.90,307.49 132.90,307.49 134.90,307.49 136.90,307.49 138.90,307.49 140.90,307.49 142.90,307.49 144.90,307.49 146.90,307.49 148.90,307.49 150.90,307.49 152.90,307.49 154.90,307.49 156.90,307.49 158.90,307.49 160.90,307.49 162.90,307.49 164.90,307.49 166.90,307.49 168.90,307.49 170.90,307.49 172.90,307.49 174.90,307.49 176.90,307.49 178.90,307.49 180.90,307.49 182.90,307.49 184.90,307.49 186.90,307.49 188.90,307.49 190.90,307.49 192.90,307.49 194.90,307.49 196.90,307.49 198.90,307.49 200.90,307.49 202.90,307.49 204.90,307.49 206.90,307.48 208.90,307.48 210.90,307.48 212.90,307.48 214.90,307.48 216.90,307.48 218.90,307.48 220.90,307.48 222.90,307.48 224.90,307.48 226.90,307.48 228.90,307.48 230.90,307.48 232.90,307.48 234.90,307.47 236.90,307.47 238.90,307.47 240.90,307.47 242.90,307.47 244.90,307.47 246.90,307.47 248.90,307.47 250.90,307.46 252.90,307.46 254.90,307.46 256.90,307.46 258.90,307.46 260.90,307.45 262.90,307.45 264.90,307.45 266.90,307.44 268.90,307.44 270.90,307.44 272.90,307.43 274.90,307.43 276.90,307.42 278.90,307.42 280.90,307.41 282.90,307.40 284.90,307.39 286.90,307.38 288.90,307.37 290.90,307.36 292.90,307.35 294.90,307.33 296.30,307.31 296.84,307.31 297.37,307.30 297.90,307.30 298.42,307.29 298.90,307.28 299.44,307.28 299.95,307.27 300.45,307.26 300.90,307.26 301.44,307.25 301.92,307.24 302.40,307.23 302.87,307.22 303.34,307.21 303.81,307.20 304.27,307.19 304.72,307.18 304.90,307.18 305.17,307.17 305.62,307.16 306.06,307.15 306.49,307.14 306.90,307.13 307.35,307.11 307.77,307.10 308.18,307.09 308.59,307.07 308.90,307.06 309.40,307.04 309.80,307.03 310.19,307.01 310.58,306.99 310.90,306.98 311.34,306.95 311.72,306.93 312.08,306.91 312.45,306.89 312.81,306.87 313.17,306.84 313.52,306.82 313.87,306.79 314.21,306.77 314.55,306.74 314.88,306.71 315.22,306.68 315.54,306.65 315.87,306.61 316.18,306.58 316.50,306.54 316.81,306.50 317.11,306.46 317.41,306.42 317.71,306.37 318.01,306.33 318.30,306.28 318.58,306.23 318.86,306.17 319.14,306.12 319.42,306.06 319.69,306.00 319.95,305.93 320.21,305.86 320.47,305.79 320.73,305.71 320.90,305.66 321.23,305.55 321.47,305.46 321.71,305.37 321.95,305.27 322.18,305.17 322.41,305.06 322.64,304.94 322.86,304.82 323.08,304.70 323.30,304.56 323.51,304.42 323.72,304.27 323.93,304.11 324.13,303.94 324.33,303.76 324.52,303.57 324.72,303.37 324.90,303.17 325.09,302.94 325.28,302.70 325.46,302.45 325.63,302.18 325.81,301.90 325.98,301.60 326.15,301.28 326.31,300.94 326.47,300.58 326.63,300.20 326.79,299.79 326.90,299.47 327.09,298.89 327.24,298.40 327.38,297.87 327.52,297.31 327.66,296.71 327.80,296.08 327.93,295.39 328.06,294.67 328.19,293.89 328.32,293.06 328.44,292.17 328.56,291.23 328.68,290.21 328.80,289.12 328.90,288.05 329.02,286.72 329.13,285.37 329.23,283.95 329.34,282.41 329.44,280.77 329.54,279.03 329.63,277.14 329.73,275.12 329.82,272.96 329.91,270.64 330.00,268.18 330.08,265.54 330.17,262.69 330.25,259.66 330.32,256.43 330.40,252.98 330.48,249.35 330.55,245.43 330.62,241.27 330.69,236.85 330.76,232.11 330.82,227.16 330.88,221.96 330.90,220.65 330.95,216.40 331.01,210.67 331.06,204.59 331.12,198.27 331.18,191.60 331.23,184.71 331.28,177.63 331.33,170.41 331.38,162.91 331.42,155.33 331.47,147.53 331.51,139.75 331.55,132.03 331.59,124.23 331.63,116.40 331.67,108.79 331.70,101.25 331.74,93.82 331.77,86.76 331.80,80.12 331.83,73.50 331.86,67.37 331.89,61.54 331.92,56.04 331.94,51.07 331.97,46.26 331.99,42.00 332.01,38.09 332.03,34.52 332.05,31.30 332.07,28.41 332.09,25.84 332.11,23.56 332.12,21.56 332.14,19.82 332.15,18.22 332.17,16.94 332.18,15.86 332.19,14.87 332.20,14.05 332.21,13.38 332.22,12.77 332.23,12.29 332.24,11.90 332.25,11.61 332.25,11.34 332.26,11.15 332.26,10.97 332.27,10.75 332.29,10.58 332.33,10.75 332.34,10.97 332.34,11.15 332.35,11.34 332.36,11.61 332.36,11.90 332.37,12.29 332.38,12.77 332.39,13.38 332.40,14.05 332.41,14.87 332.42,15.86 332.43,16.94 332.45,18.22 332.46,19.82 332.48,21.56 332.49,23.56 332.51,25.84 332.53,28.41 332.55,31.30 332.57,34.52 332.59,38.09 332.61,42.00 332.63,46.26 332.66,51.07 332.68,56.04 332.71,61.54 332.74,67.37 332.77,73.50 332.80,80.12 332.83,86.76 332.86,94.03 332.90,101.25 332.90,101.88 332.93,108.79 332.97,116.40 333.01,124.23 333.05,132.03 333.09,139.75 333.13,147.53 333.18,155.33 333.22,162.91 333.27,170.41 333.32,177.63 333.37,184.71 333.43,191.60 333.48,198.27 333.54,204.59 333.59,210.67 333.65,216.40 333.71,221.96 333.78,227.16 333.84,232.18 333.91,236.85 333.98,241.27 334.05,245.43 334.12,249.35 334.20,252.98 334.27,256.43 334.35,259.66 334.44,262.69 334.52,265.54 334.60,268.18 334.69,270.64 334.78,272.96 334.87,275.12 334.90,275.72 334.97,277.14 335.06,279.03 335.16,280.77 335.26,282.41 335.37,283.95 335.47,285.37 335.58,286.72 335.69,287.96 335.80,289.12 335.92,290.21 336.04,291.23 336.16,292.17 336.28,293.06 336.41,293.89 336.54,294.67 336.67,295.39 336.80,296.08 336.90,296.55 336.94,296.71 337.07,297.31 337.22,297.87 337.36,298.40 337.51,298.89 337.66,299.36 337.81,299.79 337.97,300.20 338.13,300.58 338.29,300.94 338.45,301.28 338.62,301.60 338.79,301.90 338.90,302.08 339.14,302.45 339.32,302.70 339.51,302.94 339.69,303.16 339.88,303.37 340.08,303.57 340.27,303.76 340.47,303.94 340.67,304.11 340.88,304.27 341.09,304.42 341.30,304.56 341.52,304.70 341.74,304.82 341.96,304.94 342.19,305.06 342.42,305.17 342.65,305.27 342.89,305.37 343.13,305.46 343.37,305.55 343.62,305.63 343.87,305.71 344.13,305.79 344.38,305.86 344.65,305.93 344.90,305.99 345.19,306.06 345.46,306.12 345.74,306.17 346.02,306.23 346.31,306.28 346.59,306.33 346.89,306.37 347.19,306.42 347.49,306.46 347.79,306.50 348.10,306.54 348.42,306.58 348.74,306.61 348.90,306.63 349.06,306.65 349.38,306.68 349.71,306.71 350.05,306.74 350.39,306.77 350.73,306.79 350.90,306.81 351.08,306.82 351.43,306.84 351.79,306.87 352.15,306.89 352.51,306.91 352.88,306.93 353.26,306.95 353.64,306.97 354.02,306.99 354.41,307.01 354.80,307.03 355.20,307.04 355.60,307.06 356.01,307.07 356.42,307.09 356.83,307.10 357.25,307.11 357.68,307.13 358.11,307.14 358.54,307.15 358.90,307.16 359.43,307.17 359.88,307.18 360.33,307.19 360.79,307.20 361.26,307.21 361.73,307.22 362.20,307.23 362.68,307.24 362.90,307.24 363.17,307.25 363.65,307.26 364.15,307.26 364.65,307.27 364.90,307.27 365.16,307.28 365.67,307.28 366.18,307.29 366.70,307.30 366.90,307.30 367.23,307.30 367.76,307.31 368.30,307.31 368.90,307.32 370.90,307.34 372.90,307.35 374.90,307.37 376.90,307.38 378.90,307.39 380.90,307.40 382.90,307.41 384.90,307.41 386.90,307.42 388.90,307.42 390.90,307.43 392.90,307.43 394.90,307.44 396.90,307.44 398.90,307.45 400.90,307.45 402.90,307.45 404.90,307.45 406.90,307.46 408.90,307.46 410.90,307.46 412.90,307.46 414.90,307.46 416.90,307.47 418.90,307.47 420.90,307.47 422.90,307.47 424.90,307.47 426.90,307.47 428.90,307.47 430.90,307.48 432.90,307.48 434.90,307.48 436.90,307.48 438.90,307.48 440.90,307.48 442.90,307.48 444.90,307.48 446.90,307.48 448.90,307.48 450.90,307.48 452.90,307.48 454.90,307.48 456.90,307.48 458.90,307.48 460.90,307.49 462.90,307.49 464.90,307.49 466.90,307.49 468.90,307.49 470.90,307.49 472.90,307.49 474.90,307.49 476.90,307.49 478.90,307.49 480.90,307.49 482.90,307.49 484.90,307.49 486.90,307.49 488.90,307.49 490.90,307.49 492.90,307.49 494.90,307.49 496.90,307.49 498.90,307.49 500.90,307.49 502.90,307.49 504.90,307.49 506.90,307.49 508.90,307.49 510.90,307.49 512.90,307.49 514.90,307.49 516.90,307.49 518.90,307.49 520.90,307.49 522.90,307.49 524.90,307.49 526.90,307.49 528.90,307.49 530.90,307.49 532.90,307.49 534.90,307.49 536.90,307.49 538.90,307.49 540.90,307.49 542.90,307.49 544.90,307.49 546.90,307.49 548.90,307.49 550.90,307.49 552.90,307.50 554.90,307.50 556.90,307.50 558.90,307.50 560.90,307.50 562.90,307.50 564.90,307.50 566.90,307.50 568.90,307.50 570.90,307.50 572.90,307.50 574.90,307.50 576.90,307.50 578.90,307.50 580.90,307.50 582.90,307.50 584.90,307.50 586.90,307.50 588.90,307.50 590.90,307.50 592.90,307.50 594.90,307.50 596.90,307.50 598.90,307.50 600.90,307.50 602.90,307.50 604.90,307.50 606.90,307.50 608.90,307.50 610.90,307.50 612.90,307.50 614.90,307.50 616.90,307.50 618.90,307.50 620.90,307.50 622.90,307.50 624.90,307.50 626.90,307.50 628.90,307.50 630.90,307.50 632.90,307.50 634.90,307.50 636.90,307.50 638.90,307.50 640.90,307.50 642.90,307.50 644.90,307.50 646.90,307.50 648.90,307.50 650.90,307.50 652.90,307.50 654.90,307.50 656.90,307.50 658.90,307.50 660.90,307.50 662.90,307.50 663.50,307.50"/>
<path d="M46.90,307.50 48.90,307.50 50.90,307.50 52.90,307.50 54.90,307.50 56.90,307.50 58.90,307.50 60.90,307.50 62.90,307.50 64.90,307.50 66.90,307.50 68.90,307.50 70.90,307.50 72.90,307.50 74.90,307.50 76.90,307.50 78.90,307.50 80.90,307.50 82.90,307.50 84.90,307.50 86.90,307.50 88.90,307.50 90.90,307.50 92.90,307.50 94.90,307.50 96.90,307.50 98.90,307.50 100.90,307.50 102.90,307.50 104.90,307.50 106.90,307.50 108.90,307.50 110.90,307.50 112.90,307.50 114.90,307.50 116.90,307.50 118.90,307.50 120.90,307.50 122.90,307.50 124.90,307.50 126.90,307.50 128.90,307.50 130.90,307.50 132.90,307.50 134.90,307.50 136.90,307.50 138.90,307.50 140.90,307.50 142.90,307.50 144.90,307.50 146.90,307.50 148.90,307.50 150.90,307.50 152.90,307.50 154.90,307.50 156.90,307.50 158.90,307.50 160.90,307.50 162.90,307.50 164.90,307.50 166.90,307.50 168.90,307.50 170.90,307.50 172.90,307.50 174.90,307.50 176.90,307.50 178.90,307.50 180.90,307.50 182.90,307.50 184.90,307.50 186.90,307.50 188.90,307.50 190.90,307.50 192.90,307.50 194.90,307.50 196.90,307.50 198.90,307.50 200.90,307.50 202.90,307.50 204.90,307.50 206.90,307.50 208.90,307.50 210.90,307.50 212.90,307.50 214.90,307.50 216.90,307.50 218.90,307.50 220.90,307.50 222.90,307.50 224.90,307.50 226.90,307.50 228.90,307.50 230.90,307.50 232.90,307.50 234.90,307.50 236.90,307.50 238.90,307.50 240.90,307.50 242.90,307.50 244.90,307.50 246.90,307.50 248.90,307.49 250.90,307.49 252.90,307.49 254.90,307.49 256.90,307.49 258.90,307.49 260.90,307.49 262.90,307.49 264.90,307.49 266.90,307.49 268.90,307.49 270.90,307.49 272.90,307.49 274.90,307.49 276.90,307.49 278.90,307.49 280.90,307.49 282.90,307.49 284.90,307.48 286.90,307.48 288.90,307.48 290.90,307.48 292.90,307.48 294.90,307.47 296.90,307.47 298.90,307.47 300.90,307.46 302.90,307.46 304.90,307.45 306.90,307.44 308.90,307.44 310.90,307.42 312.90,307.41 314.90,307.38 316.90,307.35 318.60,307.31 318.81,307.31 319.02,307.30 319.22,307.30 319.42,307.29 319.62,307.28 319.82,307.28 320.02,307.27 320.21,307.26 320.41,307.26 320.60,307.25 320.79,307.24 320.97,307.23 321.16,307.22 321.34,307.21 321.52,307.20 321.70,307.19 321.88,307.18 322.05,307.17 322.22,307.16 322.39,307.15 322.56,307.14 322.73,307.13 322.90,307.11 323.06,307.10 323.22,307.09 323.38,307.07 323.54,307.06 323.69,307.04 323.85,307.03 324.00,307.01 324.15,306.99 324.45,306.95 324.74,306.91 324.90,306.89 325.16,306.84 325.43,306.79 325.70,306.74 325.96,306.68 326.21,306.61 326.45,306.54 326.69,306.46 326.90,306.38 327.15,306.28 327.38,306.17 327.59,306.06 327.80,305.93 328.00,305.79 328.20,305.63 328.39,305.46 328.57,305.27 328.75,305.06 328.90,304.87 329.01,304.70 329.18,304.42 329.34,304.11 329.42,303.94 329.50,303.76 329.58,303.57 329.65,303.37 329.73,303.16 329.80,302.94 329.87,302.70 329.94,302.45 330.01,302.19 330.07,301.90 330.14,301.60 330.21,301.28 330.27,300.94 330.33,300.58 330.40,300.19 330.46,299.79 330.52,299.35 330.57,298.89 330.63,298.40 330.69,297.87 330.74,297.31 330.80,296.71 330.85,296.08 330.90,295.42 330.95,294.67 331.00,293.89 331.05,293.06 331.10,292.16 331.15,291.23 331.19,290.22 331.24,289.13 331.28,287.96 331.32,286.72 331.37,285.39 331.41,283.96 331.45,282.40 331.49,280.77 331.52,279.03 331.56,277.13 331.60,275.15 331.63,272.97 331.67,270.65 331.70,268.18 331.74,265.55 331.77,262.66 331.80,259.68 331.83,256.42 331.86,252.97 331.89,249.30 331.92,245.44 331.95,241.22 331.97,236.77 332.00,232.10 332.02,227.21 332.05,221.89 332.07,216.36 332.10,210.61 332.12,204.68 332.14,198.30 332.16,191.76 332.18,184.75 332.20,177.61 332.22,170.41 332.24,162.77 332.26,155.13 332.28,147.56 332.29,139.64 332.31,131.89 332.32,124.38 332.34,116.64 332.35,108.71 332.37,101.16 332.38,94.06 332.39,86.91 332.41,80.30 332.42,73.72 332.43,67.19 332.44,61.31 332.45,56.07 332.46,50.96 332.47,46.51 332.48,42.21 332.49,38.09 332.50,34.60 332.50,31.28 332.51,28.54 332.52,25.95 332.52,23.54 332.53,21.61 332.54,19.82 332.54,18.17 332.55,16.91 332.55,15.76 332.56,14.92 332.56,13.96 332.57,13.28 332.57,12.81 332.57,12.26 332.58,11.89 332.58,11.57 332.58,11.37 332.58,11.12 332.59,10.85 332.59,10.70 332.60,10.54 332.61,10.70 332.61,10.85 332.62,11.12 332.62,11.37 332.62,11.57 332.62,11.89 332.63,12.26 332.63,12.81 332.63,13.28 332.64,13.96 332.64,14.92 332.65,15.76 332.65,16.91 332.66,18.17 332.66,19.82 332.67,21.61 332.68,23.54 332.68,25.95 332.69,28.54 332.70,31.28 332.70,34.60 332.71,38.09 332.72,42.21 332.73,46.51 332.74,50.96 332.75,56.07 332.76,61.31 332.77,67.19 332.78,73.72 332.79,80.30 332.81,86.91 332.82,94.06 332.83,101.16 332.85,108.71 332.86,116.64 332.88,124.38 332.89,131.89 332.90,136.29 332.91,139.64 332.92,147.56 332.94,155.13 332.96,162.77 332.98,170.41 333.00,177.61 333.02,184.75 333.04,191.76 333.06,198.30 333.08,204.68 333.10,210.61 333.13,216.36 333.15,221.89 333.18,227.21 333.20,232.10 333.23,236.77 333.25,241.22 333.28,245.44 333.31,249.30 333.34,252.97 333.37,256.42 333.40,259.68 333.43,262.66 333.46,265.55 333.50,268.18 333.53,270.65 333.56,272.97 333.60,275.15 333.64,277.13 333.68,279.03 333.71,280.77 333.75,282.40 333.79,283.96 333.83,285.39 333.88,286.72 333.92,287.96 333.96,289.13 334.01,290.22 334.05,291.23 334.10,292.16 334.15,293.06 334.20,293.89 334.25,294.67 334.30,295.40 334.35,296.08 334.40,296.71 334.46,297.31 334.51,297.87 334.57,298.40 334.63,298.89 334.68,299.35 334.74,299.79 334.80,300.19 334.87,300.58 334.90,300.78 334.93,300.94 334.99,301.28 335.06,301.60 335.12,301.90 335.19,302.19 335.26,302.45 335.33,302.70 335.40,302.94 335.48,303.16 335.55,303.37 335.62,303.57 335.70,303.76 335.78,303.94 335.86,304.11 335.94,304.27 336.10,304.56 336.27,304.82 336.44,305.06 336.62,305.27 336.81,305.46 337.00,305.63 337.20,305.79 337.40,305.93 337.61,306.06 337.82,306.17 338.05,306.28 338.27,306.37 338.51,306.46 338.75,306.54 338.90,306.59 339.12,306.65 339.37,306.71 339.63,306.77 339.90,306.82 340.18,306.87 340.46,306.91 340.75,306.95 341.05,306.99 341.20,307.01 341.35,307.03 341.50,307.04 341.66,307.06 341.82,307.07 341.98,307.09 342.14,307.10 342.30,307.11 342.47,307.13 342.64,307.14 342.81,307.15 342.98,307.16 343.15,307.17 343.32,307.18 343.50,307.19 343.68,307.20 343.86,307.21 344.04,307.22 344.23,307.23 344.42,307.24 344.60,307.25 344.79,307.26 344.99,307.26 345.18,307.27 345.38,307.28 345.58,307.28 345.78,307.29 345.98,307.30 346.18,307.30 346.39,307.31 346.60,307.31 346.90,307.32 348.90,307.36 350.90,307.39 352.90,307.41 354.90,307.43 356.90,307.44 358.90,307.45 360.90,307.45 362.90,307.46 364.90,307.47 366.90,307.47 368.90,307.47 370.90,307.48 372.90,307.48 374.90,307.48 376.90,307.48 378.90,307.48 380.90,307.48 382.90,307.49 384.90,307.49 386.90,307.49 388.90,307.49 390.90,307.49 392.90,307.49 394.90,307.49 396.90,307.49 398.90,307.49 400.90,307.49 402.90,307.49 404.90,307.49 406.90,307.49 408.90,307.49 410.90,307.49 412.90,307.49 414.90,307.49 416.90,307.49 418.90,307.50 420.90,307.50 422.90,307.50 424.90,307.50 426.90,307.50 428.90,307.50 430.90,307.50 432.90,307.50 434.90,307.50 436.90,307.50 438.90,307.50 440.90,307.50 442.90,307.50 444.90,307.50 446.90,307.50 448.90,307.50 450.90,307.50 452.90,307.50 454.90,307.50 456.90,307.50 458.90,307.50 460.90,307.50 462.90,307.50 464.90,307.50 466.90,307.50 468.90,307.50 470.90,307.50 472.90,307.50 474.90,307.50 476.90,307.50 478.90,307.50 480.90,307.50 482.90,307.50 484.90,307.50 486.90,307.50 488.90,307.50 490.90,307.50 492.90,307.50 494.90,307.50 496.90,307.50 498.90,307.50 500.90,307.50 502.90,307.50 504.90,307.50 506.90,307.50 508.90,307.50 510.90,307.50 512.90,307.50 514.90,307.50 516.90,307.50 518.90,307.50 520.90,307.50 522.90,307.50 524.90,307.50 526.90,307.50 528.90,307.50 530.90,307.50 532.90,307.50 534.90,307.50 536.90,307.50 538.90,307.50 540.90,307.50 542.90,307.50 544.90,307.50 546.90,307.50 548.90,307.50 550.90,307.50 552.90,307.50 554.90,307.50 556.90,307.50 558.90,307.50 560.90,307.50 562.90,307.50 564.90,307.50 566.90,307.50 568.90,307.50 570.90,307.50 572.90,307.50 574.90,307.50 576.90,307.50 578.90,307.50 580.90,307.50 582.90,307.50 584.90,307.50 586.90,307.50 588.90,307.50 590.90,307.50 592.90,307.50 594.90,307.50 596.90,307.50 598.90,307.50 600.90,307.50 602.90,307.50 604.90,307.50 606.90,307.50 608.90,307.50 610.90,307.50 612.90,307.50 614.90,307.50 616.90,307.50 618.90,307.50 620.90,307.50 622.90,307.50 624.90,307.50 626.90,307.50 628.90,307.50 630.90,307.50 632.90,307.50 634.90,307.50 636.90,307.50 638.90,307.50 640.90,307.50 642.90,307.50 644.90,307.50 646.90,307.50 648.90,307.50 650.90,307.50 652.90,307.50 654.90,307.50 656.90,307.50 658.90,307.50 660.90,307.50 662.90,307.50 663.50,307.50"/>
<path d="M46.90,307.50 48.90,307.50 50.90,307.50 52.90,307.50 54.90,307.50 56.90,307.50 58.90,307.50 60.90,307.50 62.90,307.50 64.90,307.50 66.90,307.50 68.90,307.50 70.90,307.50 72.90,307.50 74.90,307.50 76.90,307.50 78.90,307.50 80.90,307.50 82.90,307.50 84.90,307.50 86.90,307.50 88.90,307.50 90.90,307.50 92.90,307.50 94.90,307.50 96.90,307.50 98.90,307.50 100.90,307.50 102.90,307.50 104.90,307.50 106.90,307.50 108.90,307.50 110.90,307.50 112.90,307.50 114.90,307.50 116.90,307.50 118.90,307.50 120.90,307.50 122.90,307.50 124.90,307.50 126.90,307.50 128.90,307.50 130.90,307.50 132.90,307.50 134.90,307.50 136.90,307.50 138.90,307.50 140.90,307.50 142.90,307.50 144.90,307.50 146.90,307.50 148.90,307.50 150.90,307.50 152.90,307.50 154.90,307.50 156.90,307.50 158.90,307.50 160.90,307.50 162.90,307.50 164.90,307.50 166.90,307.50 168.90,307.50 170.90,307.50 172.90,307.50 174.90,307.50 176.90,307.50 178.90,307.50 180.90,307.50 182.90,307.50 184.90,307.50 186.90,307.50 188.90,307.50 190.90,307.50 192.90,307.50 194.90,307.50 196.90,307.50 198.90,307.50 200.90,307.50 202.90,307.50 204.90,307.50 206.90,307.50 208.90,307.50 210.90,307.50 212.90,307.50 214.90,307.50 216.90,307.50 218.90,307.50 220.90,307.50 222.90,307.50 224.90,307.50 226.90,307.50 228.90,307.50 230.90,307.50 232.90,307.50 234.90,307.50 236.90,307.50 238.90,307.50 240.90,307.50 242.90,307.50 244.90,307.50 246.90,307.50 248.90,307.50 250.90,307.50 252.90,307.50 254.90,307.50 256.90,307.50 258.90,307.50 260.90,307.50 262.90,307.50 264.90,307.50 266.90,307.50 268.90,307.50 270.90,307.50 272.90,307.50 274.90,307.50 276.90,307.50 278.90,307.50 280.90,307.50 282.90,307.50 284.90,307.50 286.90,307.50 288.90,307.50 290.90,307.50 292.90,307.50 294.90,307.50 296.90,307.50 298.90,307.50 300.90,307.50 302.90,307.49 304.90,307.49 306.90,307.49 308.90,307.49 310.90,307.49 312.90,307.49 314.90,307.48 316.90,307.48 318.90,307.47 320.90,307.46 322.90,307.45 324.90,307.42 326.90,307.36 327.60,307.31 327.75,307.30 327.91,307.29 328.13,307.27 328.34,307.25 328.55,307.22 328.75,307.19 328.95,307.16 329.13,307.13 329.32,307.09 329.49,307.04 329.66,306.99 329.83,306.93 329.99,306.87 330.14,306.79 330.33,306.68 330.52,306.54 330.69,306.37 330.86,306.17 330.98,306.00 331.09,305.79 331.17,305.63 331.24,305.46 331.31,305.27 331.37,305.06 331.44,304.82 331.50,304.56 331.56,304.27 331.59,304.11 331.62,303.94 331.65,303.77 331.68,303.57 331.70,303.37 331.73,303.16 331.76,302.94 331.79,302.71 331.81,302.46 331.84,302.18 331.86,301.90 331.89,301.60 331.91,301.28 331.94,300.94 331.96,300.59 331.98,300.20 332.00,299.78 332.03,299.35 332.05,298.88 332.07,298.39 332.09,297.87 332.11,297.32 332.13,296.72 332.15,296.08 332.17,295.41 332.19,294.68 332.21,293.88 332.23,293.06 332.24,292.16 332.26,291.23 332.28,290.22 332.29,289.11 332.31,287.97 332.33,286.72 332.34,285.36 332.36,283.95 332.37,282.41 332.39,280.73 332.40,279.00 332.42,277.10 332.43,275.18 332.44,272.90 332.45,270.57 332.47,268.22 332.48,265.43 332.49,262.59 332.50,259.75 332.51,256.35 332.53,252.93 332.54,249.18 332.55,245.46 332.56,241.41 332.57,236.99 332.58,232.17 332.59,227.44 332.60,221.72 332.61,216.12 332.61,210.73 332.62,204.94 332.63,197.91 332.64,192.03 332.64,184.85 332.65,178.15 332.66,169.98 332.67,162.39 332.67,155.53 332.68,147.14 332.69,139.61 332.69,131.78 332.70,123.67 332.70,116.72 332.71,108.17 332.71,100.91 332.72,93.56 332.72,86.15 332.73,80.22 332.73,72.83 332.74,66.99 332.74,61.23 332.75,55.59 332.75,51.47 332.75,46.13 332.75,42.28 332.76,38.57 332.76,35.02 332.76,31.65 332.77,28.48 332.77,25.52 332.77,23.67 332.77,21.92 332.78,19.51 332.78,18.05 332.78,16.71 332.78,16.09 332.78,14.93 332.79,13.91 332.79,13.44 332.79,12.61 332.79,12.25 332.79,11.92 332.79,11.62 332.79,11.36 332.79,11.13 332.80,10.94 332.80,10.78 332.80,10.57 332.80,10.78 332.81,10.94 332.81,11.13 332.81,11.36 332.81,11.62 332.81,11.92 332.81,12.25 332.81,12.61 332.81,13.44 332.81,13.91 332.82,14.93 332.82,16.09 332.82,16.71 332.82,18.05 332.82,19.51 332.83,21.92 332.83,23.67 332.83,25.52 332.83,28.48 332.84,31.65 332.84,35.02 332.84,38.57 332.85,42.28 332.85,46.13 332.85,51.47 332.86,55.59 332.86,61.23 332.86,66.99 332.87,72.83 332.87,80.22 332.88,86.15 332.88,93.56 332.89,100.91 332.89,108.17 332.90,116.72 332.90,120.91 332.90,123.67 332.91,131.78 332.91,139.61 332.92,147.14 332.93,155.53 332.93,162.39 332.94,169.98 332.95,178.15 332.95,184.85 332.96,192.03 332.97,197.91 332.98,204.94 332.99,210.73 333.00,216.12 333.00,221.72 333.01,227.44 333.02,232.17 333.03,236.99 333.04,241.41 333.05,245.46 333.06,249.18 333.07,252.93 333.08,256.35 333.10,259.75 333.11,262.59 333.12,265.43 333.13,268.22 333.14,270.57 333.16,272.90 333.17,275.18 333.19,277.10 333.20,279.00 333.21,280.73 333.23,282.41 333.24,283.95 333.26,285.36 333.27,286.72 333.29,287.97 333.31,289.11 333.32,290.22 333.34,291.23 333.36,292.16 333.38,293.06 333.39,293.88 333.41,294.68 333.43,295.41 333.45,296.08 333.47,296.72 333.49,297.32 333.51,297.87 333.53,298.39 333.55,298.88 333.57,299.35 333.60,299.78 333.62,300.20 333.64,300.59 333.67,300.94 333.69,301.28 333.71,301.60 333.74,301.90 333.76,302.18 333.79,302.46 333.81,302.71 333.84,302.94 333.87,303.16 333.89,303.37 333.92,303.57 333.95,303.77 333.98,303.94 334.01,304.11 334.04,304.27 334.07,304.42 334.13,304.69 334.19,304.94 334.26,305.17 334.33,305.37 334.40,305.55 334.47,305.71 334.58,305.93 334.70,306.12 334.82,306.28 334.99,306.46 335.17,306.61 335.36,306.74 335.56,306.84 335.72,306.91 335.88,306.97 336.05,307.03 336.22,307.07 336.40,307.11 336.59,307.15 336.78,307.18 336.98,307.21 337.19,307.24 337.40,307.26 337.62,307.28 337.85,307.30 338.00,307.31 338.90,307.37 340.90,307.42 342.90,307.45 344.90,307.47 346.90,307.47 348.90,307.48 350.90,307.48 352.90,307.49 354.90,307.49 356.90,307.49 358.90,307.49 360.90,307.49 362.90,307.49 364.90,307.50 366.90,307.50 368.90,307.50 370.90,307.50 372.90,307.50 374.90,307.50 376.90,307.50 378.90,307.50 380.90,307.50 382.90,307.50 384.90,307.50 386.90,307.50 388.90,307.50 390.90,307.50 392.90,307.50 394.90,307.50 396.90,307.50 398.90,307.50 400.90,307.50 402.90,307.50 404.90,307.50 406.90,307.50 408.90,307.50 410.90,307.50 412.90,307.50 414.90,307.50 416.90,307.50 418.90,307.50 420.90,307.50 422.90,307.50 424.90,307.50 426.90,307.50 428.90,307.50 430.90,307.50 432.90,307.50 434.90,307.50 436.90,307.50 438.90,307.50 440.90,307.50 442.90,307.50 444.90,307.50 446.90,307.50 448.90,307.50 450.90,307.50 452.90,307.50 454.90,307.50 456.90,307.50 458.90,307.50 460.90,307.50 462.90,307.50 464.90,307.50 466.90,307.50 468.90,307.50 470.90,307.50 472.90,307.50 474.90,307.50 476.90,307.50 478.90,307.50 480.90,307.50 482.90,307.50 484.90,307.50 486.90,307.50 488.90,307.50 490.90,307.50 492.90,307.50 494.90,307.50 496.90,307.50 498.90,307.50 500.90,307.50 502.90,307.50 504.90,307.50 506.90,307.50 508.90,307.50 510.90,307.50 512.90,307.50 514.90,307.50 516.90,307.50 518.90,307.50 520.90,307.50 522.90,307.50 524.90,307.50 526.90,307.50 528.90,307.50 530.90,307.50 532.90,307.50 534.90,307.50 536.90,307.50 538.90,307.50 540.90,307.50 542.90,307.50 544.90,307.50 546.90,307.50 548.90,307.50 550.90,307.50 552.90,307.50 554.90,307.50 556.90,307.50 558.90,307.50 560.90,307.50 562.90,307.50 564.90,307.50 566.90,307.50 568.90,307.50 570.90,307.50 572.90,307.50 574.90,307.50 576.90,307.50 578.90,307.50 580.90,307.50 582.90,307.50 584.90,307.50 586.90,307.50 588.90,307.50 590.90,307.50 592.90,307.50 594.90,307.50 596.90,307.50 598.90,307.50 600.90,307.50 602.90,307.50 604.90,307.50 606.90,307.50 608.90,307.50 610.90,307.50 612.90,307.50 614.90,307.50 616.90,307.50 618.90,307.50 620.90,307.50 622.90,307.50 624.90,307.50 626.90,307.50 628.90,307.50 630.90,307.50 632.90,307.50 634.90,307.50 636.90,307.50 638.90,307.50 640.90,307.50 642.90,307.50 644.90,307.50 646.90,307.50 648.90,307.50 650.90,307.50 652.90,307.50 654.90,307.50 656.90,307.50 658.90,307.50 660.90,307.50 662.90,307.50 663.50,307.50"/>
<path d="M46.90,307.50 48.90,307.50 50.90,307.50 52.90,307.50 54.90,307.50 56.90,307.50 58.90,307.50 60.90,307.50 62.90,307.50 64.90,307.50 66.90,307.50 68.90,307.50 70.90,307.50 72.90,307.50 74.90,307.50 76.90,307.50 78.90,307.50 80.90,307.50 82.90,307.50 84.90,307.50 86.90,307.50 88.90,307.50 90.90,307.50 92.90,307.50 94.90,307.50 96.90,307.50 98.90,307.50 100.90,307.50 102.90,307.50 104.90,307.50 106.90,307.50 108.90,307.50 110.90,307.50 112.90,307.50 114.90,307.50 116.90,307.50 118.90,307.50 120.90,307.50 122.90,307.50 124.90,307.50 126.90,307.50 128.90,307.50 130.90,307.50 132.90,307.50 134.90,307.50 136.90,307.50 138.90,307.50 140.90,307.50 142.90,307.50 144.90,307.50 146.90,307.50 148.90,307.50 150.90,307.50 152.90,307.50 154.90,307.50 156.90,307.50 158.90,307.50 160.90,307.50 162.90,307.50 164.90,307.50 166.90,307.50 168.90,307.50 170.90,307.50 172.90,307.50 174.90,307.50 176.90,307.50 178.90,307.50 180.90,307.50 182.90,307.50 184.90,307.50 186.90,307.50 188.90,307.50 190.90,307.50 192.90,307.50 194.90,307.50 196.90,307.50 198.90,307.50 200.90,307.50 202.90,307.50 204.90,307.50 206.90,307.50 208.90,307.50 210.90,307.50 212.90,307.50 214.90,307.50 216.90,307.50 218.90,307.50 220.90,307.50 222.90,307.50 224.90,307.50 226.90,307.50 228.90,307.50 230.90,307.50 232.90,307.50 234.90,307.50 236.90,307.50 238.90,307.50 240.90,307.50 242.90,307.50 244.90,307.50 246.90,307.50 248.90,307.50 250.90,307.50 252.90,307.50 254.90,307.50 256.90,307.50 258.90,307.50 260.90,307.50 262.90,307.50 264.90,307.50 266.90,307.50 268.90,307.50 270.90,307.50 272.90,307.50 274.90,307.50 276.90,307.50 278.90,307.50 280.90,307.50 282.90,307.50 284.90,307.50 286.90,307.50 288.90,307.50 290.90,307.50 292.90,307.50 294.90,307.50 296.90,307.50 298.90,307.50 300.90,307.50 302.90,307.50 304.90,307.50 306.90,307.50 308.90,307.50 310.90,307.50 312.90,307.50 314.90,307.50 316.90,307.50 318.90,307.50 320.90,307.49 322.90,307.49 324.90,307.49 326.90,307.48 328.90,307.45 330.90,307.31 331.07,307.28 331.24,307.23 331.39,307.17 331.56,307.09 331.71,306.97 331.86,306.82 331.97,306.65 332.06,306.46 332.12,306.28 332.17,306.12 332.21,305.93 332.26,305.71 332.29,305.55 332.31,305.37 332.34,305.17 332.36,304.95 332.39,304.69 332.41,304.41 332.44,304.11 332.45,303.94 332.46,303.76 332.47,303.57 332.48,303.37 332.49,303.17 332.50,302.93 332.51,302.70 332.52,302.45 332.53,302.17 332.54,301.91 332.55,301.59 332.56,301.28 332.57,300.95 332.58,300.59 332.58,300.20 332.59,299.78 332.60,299.37 332.61,298.87 332.62,298.39 332.63,297.86 332.63,297.29 332.64,296.75 332.65,296.08 332.66,295.44 332.67,294.64 332.67,293.87 332.68,293.04 332.69,292.13 332.69,291.28 332.70,290.19 332.70,289.18 332.71,287.88 332.72,286.66 332.72,285.32 332.73,283.85 332.74,282.52 332.74,280.77 332.75,279.18 332.75,277.07 332.76,275.15 332.76,273.04 332.77,270.72 332.77,268.18 332.78,265.38 332.78,262.93 332.79,259.58 332.79,256.64 332.80,252.60 332.80,249.04 332.80,245.15 332.81,240.90 332.81,236.25 332.81,232.47 332.82,227.00 332.82,222.56 332.82,216.12 332.83,210.87 332.83,205.24 332.83,199.20 332.84,192.72 332.84,185.78 332.84,178.35 332.85,170.41 332.85,161.94 332.85,156.00 332.85,146.65 332.86,140.12 332.86,133.37 332.86,122.84 332.86,115.59 332.87,108.17 332.87,100.62 332.87,92.97 332.87,85.26 332.87,81.40 332.87,73.72 332.88,66.12 332.88,62.37 332.88,55.03 332.88,51.47 332.88,47.98 332.88,41.28 332.88,38.09 332.88,35.02 332.89,32.09 332.89,29.31 332.89,26.68 332.89,24.21 332.89,21.92 332.89,19.82 332.89,17.91 332.89,16.21 332.89,14.72 332.89,13.44 332.90,12.39 332.90,11.57 332.90,10.97 332.90,10.62 332.90,10.97 332.90,11.57 332.90,12.39 332.90,13.44 332.91,14.72 332.91,16.21 332.91,17.91 332.91,19.82 332.91,21.92 332.91,24.21 332.91,26.68 332.91,29.31 332.91,32.09 332.92,35.02 332.92,38.09 332.92,41.28 332.92,47.98 332.92,51.47 332.92,55.03 332.92,62.37 332.92,66.12 332.93,73.72 332.93,81.40 332.93,85.26 332.93,92.97 332.93,100.62 332.94,108.17 332.94,115.59 332.94,122.84 332.94,133.37 332.94,140.12 332.95,146.65 332.95,156.00 332.95,161.94 332.95,170.41 332.96,178.35 332.96,185.78 332.96,192.72 332.97,199.20 332.97,205.24 332.97,210.87 332.98,216.12 332.98,222.56 332.98,227.00 332.99,232.47 332.99,236.25 332.99,240.90 333.00,245.15 333.00,249.04 333.00,252.60 333.01,256.64 333.01,259.58 333.02,262.93 333.02,265.38 333.03,268.18 333.03,270.72 333.04,273.04 333.04,275.15 333.05,277.07 333.05,279.18 333.06,280.77 333.06,282.52 333.07,283.85 333.08,285.32 333.08,286.66 333.09,287.88 333.10,289.18 333.10,290.19 333.11,291.28 333.11,292.13 333.12,293.04 333.13,293.87 333.13,294.64 333.14,295.44 333.15,296.08 333.16,296.75 333.17,297.29 333.17,297.86 333.18,298.39 333.19,298.87 333.20,299.37 333.21,299.78 333.21,300.20 333.22,300.59 333.23,300.95 333.24,301.28 333.25,301.59 333.26,301.91 333.27,302.17 333.28,302.45 333.29,302.70 333.30,302.93 333.31,303.17 333.32,303.37 333.33,303.57 333.34,303.76 333.35,303.94 333.37,304.11 333.38,304.27 333.40,304.56 333.42,304.82 333.45,305.06 333.48,305.27 333.50,305.47 333.53,305.64 333.56,305.79 333.60,306.00 333.65,306.17 333.69,306.33 333.76,306.50 333.85,306.68 333.96,306.84 334.13,307.01 334.29,307.11 334.46,307.19 334.62,307.25 334.78,307.29 336.90,307.45 338.90,307.48 340.90,307.49 342.90,307.49 344.90,307.49 346.90,307.50 348.90,307.50 350.90,307.50 352.90,307.50 354.90,307.50 356.90,307.50 358.90,307.50 360.90,307.50 362.90,307.50 364.90,307.50 366.90,307.50 368.90,307.50 370.90,307.50 372.90,307.50 374.90,307.50 376.90,307.50 378.90,307.50 380.90,307.50 382.90,307.50 384.90,307.50 386.90,307.50 388.90,307.50 390.90,307.50 392.90,307.50 394.90,307.50 396.90,307.50 398.90,307.50 400.90,307.50 402.90,307.50 404.90,307.50 406.90,307.50 408.90,307.50 410.90,307.50 412.90,307.50 414.90,307.50 416.90,307.50 418.90,307.50 420.90,307.50 422.90,307.50 424.90,307.50 426.90,307.50 428.90,307.50 430.90,307.50 432.90,307.50 434.90,307.50 436.90,307.50 438.90,307.50 440.90,307.50 442.90,307.50 444.90,307.50 446.90,307.50 448.90,307.50 450.90,307.50 452.90,307.50 454.90,307.50 456.90,307.50 458.90,307.50 460.90,307.50 462.90,307.50 464.90,307.50 466.90,307.50 468.90,307.50 470.90,307.50 472.90,307.50 474.90,307.50 476.90,307.50 478.90,307.50 480.90,307.50 482.90,307.50 484.90,307.50 486.90,307.50 488.90,307.50 490.90,307.50 492.90,307.50 494.90,307.50 496.90,307.50 498.90,307.50 500.90,307.50 502.90,307.50 504.90,307.50 506.90,307.50 508.90,307.50 510.90,307.50 512.90,307.50 514.90,307.50 516.90,307.50 518.90,307.50 520.90,307.50 522.90,307.50 524.90,307.50 526.90,307.50 528.90,307.50 530.90,307.50 532.90,307.50 534.90,307.50 536.90,307.50 538.90,307.50 540.90,307.50 542.90,307.50 544.90,307.50 546.90,307.50 548.90,307.50 550.90,307.50 552.90,307.50 554.90,307.50 556.90,307.50 558.90,307.50 560.90,307.50 562.90,307.50 564.90,307.50 566.90,307.50 568.90,307.50 570.90,307.50 572.90,307.50 574.90,307.50 576.90,307.50 578.90,307.50 580.90,307.50 582.90,307.50 584.90,307.50 586.90,307.50 588.90,307.50 590.90,307.50 592.90,307.50 594.90,307.50 596.90,307.50 598.90,307.50 600.90,307.50 602.90,307.50 604.90,307.50 606.90,307.50 608.90,307.50 610.90,307.50 612.90,307.50 614.90,307.50 616.90,307.50 618.90,307.50 620.90,307.50 622.90,307.50 624.90,307.50 626.90,307.50 628.90,307.50 630.90,307.50 632.90,307.50 634.90,307.50 636.90,307.50 638.90,307.50 640.90,307.50 642.90,307.50 644.90,307.50 646.90,307.50 648.90,307.50 650.90,307.50 652.90,307.50 654.90,307.50 656.90,307.50 658.90,307.50 660.90,307.50 662.90,307.50 663.50,307.50"/>
<path d="M46.90,307.50 48.90,307.50 50.90,307.50 52.90,307.50 54.90,307.50 56.90,307.50 58.90,307.50 60.90,307.50 62.90,307.50 64.90,307.50 66.90,307.50 68.90,307.50 70.90,307.50 72.90,307.50 74.90,307.50 76.90,307.50 78.90,307.50 80.90,307.50 82.90,307.50 84.90,307.50 86.90,307.50 88.90,307.50 90.90,307.50 92.90,307.50 94.90,307.50 96.90,307.50 98.90,307.50 100.90,307.50 102.90,307.50 104.90,307.50 106.90,307.50 108.90,307.50 110.90,307.50 112.90,307.50 114.90,307.50 116.90,307.50 118.90,307.50 120.90,307.50 122.90,307.50 124.90,307.50 126.90,307.50 128.90,307.50 130.90,307.50 132.90,307.50 134.90,307.50 136.90,307.50 138.90,307.50 140.90,307.50 142.90,307.50 144.90,307.50 146.90,307.50 148.90,307.50 150.90,307.50 152.90,307.50 154.90,307.50 156.90,307.50 158.90,307.50 160.90,307.50 162.90,307.50 164.90,307.50 166.90,307.50 168.90,307.50 170.90,307.50 172.90,307.50 174.90,307.50 176.90,307.50 178.90,307.50 180.90,307.50 182.90,307.50 184.90,307.50 186.90,307.50 188.90,307.50 190.90,307.50 192.90,307.50 194.90,307.50 196.90,307.50 198.90,307.50 200.90,307.50 202.90,307.50 204.90,307.50 206.90,307.50 208.90,307.50 210.90,307.50 212.90,307.50 214.90,307.50 216.90,307.50 218.90,307.50 220.90,307.50 222.90,307.50 224.90,307.50 226.90,307.50 228.90,307.50 230.90,307.50 232.90,307.50 234.90,307.50 236.90,307.49 238.90,307.49 240.90,307.49 242.90,307.49 244.90,307.49 246.90,307.49 248.90,307.49 250.90,307.49 252.90,307.49 254.90,307.49 256.90,307.49 258.90,307.49 260.90,307.49 262.90,307.49 264.90,307.49 266.90,307.49 268.90,307.49 270.90,307.49 272.90,307.49 274.90,307.49 276.90,307.49 278.90,307.48 280.90,307.48 282.90,307.48 284.90,307.48 286.90,307.48 288.90,307.48 290.90,307.47 292.90,307.47 294.90,307.47 296.90,307.46 298.90,307.46 300.90,307.45 302.90,307.45 304.90,307.44 306.90,307.43 308.90,307.42 310.90,307.41 312.90,307.39 314.90,307.36 316.90,307.32 317.30,307.31 317.54,307.31 317.77,307.30 318.01,307.30 318.24,307.29 318.47,307.28 318.70,307.28 318.90,307.27 319.14,307.26 319.36,307.26 319.58,307.25 319.80,307.24 320.01,307.23 320.22,307.22 320.43,307.21 320.64,307.20 320.84,307.19 321.04,307.18 321.24,307.17 321.44,307.16 321.64,307.15 321.83,307.14 322.02,307.13 322.21,307.11 322.40,307.10 322.58,307.09 322.76,307.07 322.94,307.06 323.12,307.04 323.30,307.03 323.47,307.01 323.65,306.99 323.82,306.97 323.99,306.95 324.15,306.93 324.32,306.91 324.48,306.89 324.64,306.87 324.80,306.84 324.95,306.82 325.11,306.79 325.26,306.77 325.56,306.71 325.85,306.65 326.14,306.58 326.41,306.50 326.68,306.42 326.90,306.34 327.08,306.28 327.33,306.17 327.57,306.06 327.81,305.93 328.04,305.79 328.27,305.63 328.49,305.46 328.70,305.27 328.90,305.07 329.11,304.82 329.30,304.56 329.49,304.27 329.58,304.11 329.67,303.94 329.76,303.76 329.84,303.57 329.93,303.37 330.01,303.16 330.10,302.94 330.18,302.70 330.26,302.45 330.34,302.18 330.41,301.90 330.49,301.60 330.56,301.28 330.64,300.94 330.71,300.58 330.78,300.20 330.85,299.79 330.90,299.47 330.99,298.89 331.05,298.40 331.12,297.87 331.18,297.31 331.24,296.72 331.30,296.08 331.36,295.40 331.42,294.66 331.48,293.89 331.53,293.05 331.58,292.18 331.64,291.22 331.69,290.21 331.74,289.11 331.79,287.95 331.84,286.71 331.89,285.38 331.94,283.95 331.98,282.42 332.03,280.77 332.07,279.01 332.12,277.12 332.16,275.15 332.20,272.98 332.24,270.66 332.28,268.18 332.31,265.53 332.35,262.70 332.39,259.67 332.42,256.45 332.46,253.03 332.49,249.27 332.52,245.41 332.55,241.18 332.58,236.85 332.61,232.14 332.64,227.18 332.67,221.98 332.70,216.54 332.73,210.64 332.75,204.51 332.78,198.15 332.80,191.60 332.82,184.88 332.85,177.71 332.87,170.41 332.89,163.03 332.90,159.00 332.91,155.24 332.93,147.45 332.95,139.70 332.97,132.08 332.99,124.18 333.00,116.51 333.02,108.64 333.04,101.09 333.05,93.93 333.06,86.71 333.08,79.96 333.09,73.72 333.11,67.53 333.12,61.44 333.13,55.94 333.14,51.02 333.15,46.26 333.16,42.09 333.17,38.09 333.18,34.65 333.19,31.38 333.20,28.30 333.21,25.73 333.21,23.62 333.22,21.65 333.23,19.82 333.23,18.37 333.24,17.04 333.25,15.82 333.25,14.89 333.26,14.05 333.26,13.30 333.26,12.76 333.27,12.27 333.27,11.95 333.28,11.57 333.28,11.32 333.28,10.97 333.29,10.77 333.29,10.59 333.31,10.77 333.32,10.97 333.32,11.17 333.32,11.57 333.33,11.95 333.33,12.27 333.33,12.76 333.34,13.30 333.34,14.05 333.35,14.89 333.35,15.82 333.36,17.04 333.37,18.37 333.37,19.82 333.38,21.65 333.39,23.62 333.39,25.73 333.40,28.30 333.41,31.38 333.42,34.65 333.43,38.09 333.44,42.09 333.45,46.26 333.46,51.02 333.47,55.94 333.48,61.44 333.50,67.53 333.51,73.72 333.52,79.96 333.54,86.71 333.55,93.93 333.56,101.09 333.58,108.64 333.60,116.51 333.62,124.18 333.63,132.08 333.65,139.70 333.67,147.45 333.69,155.24 333.71,163.03 333.73,170.41 333.75,177.71 333.78,184.88 333.80,191.60 333.82,198.15 333.85,204.51 333.88,210.64 333.90,216.54 333.93,221.98 333.96,227.18 333.99,232.14 334.02,236.85 334.05,241.18 334.08,245.41 334.11,249.27 334.14,253.03 334.18,256.45 334.21,259.67 334.25,262.70 334.29,265.53 334.32,268.18 334.36,270.66 334.40,272.98 334.44,275.15 334.49,277.12 334.53,279.01 334.57,280.77 334.62,282.42 334.66,283.95 334.71,285.38 334.76,286.71 334.81,287.95 334.86,289.11 334.90,290.03 334.91,290.21 334.96,291.22 335.01,292.18 335.07,293.05 335.12,293.89 335.18,294.66 335.24,295.40 335.30,296.08 335.36,296.72 335.42,297.31 335.49,297.87 335.55,298.40 335.62,298.89 335.68,299.35 335.75,299.79 335.82,300.20 335.89,300.58 335.96,300.94 336.04,301.28 336.11,301.60 336.19,301.90 336.26,302.18 336.34,302.45 336.42,302.70 336.50,302.94 336.59,303.16 336.67,303.37 336.76,303.57 336.84,303.76 336.93,303.94 337.02,304.11 337.11,304.27 337.21,304.42 337.40,304.70 337.59,304.94 337.80,305.17 338.00,305.37 338.22,305.55 338.44,305.71 338.67,305.86 338.90,305.99 339.15,306.12 339.40,306.23 339.65,306.33 339.92,306.42 340.19,306.50 340.46,306.58 340.75,306.65 340.90,306.68 341.19,306.74 341.49,306.79 341.65,306.82 341.80,306.84 341.96,306.87 342.12,306.89 342.28,306.91 342.45,306.93 342.62,306.95 342.78,306.97 342.95,306.99 343.13,307.01 343.30,307.03 343.48,307.04 343.65,307.06 343.84,307.07 344.02,307.09 344.20,307.10 344.39,307.11 344.58,307.13 344.77,307.14 344.96,307.15 345.16,307.16 345.36,307.17 345.56,307.18 345.76,307.19 345.96,307.20 346.17,307.21 346.38,307.22 346.59,307.23 346.80,307.24 347.02,307.25 347.24,307.26 347.46,307.26 347.68,307.27 347.90,307.28 348.13,307.28 348.36,307.29 348.59,307.30 348.82,307.30 349.06,307.31 349.30,307.31 350.90,307.35 352.90,307.38 354.90,307.40 356.90,307.41 358.90,307.43 360.90,307.44 362.90,307.45 364.90,307.45 366.90,307.46 368.90,307.46 370.90,307.47 372.90,307.47 374.90,307.47 376.90,307.48 378.90,307.48 380.90,307.48 382.90,307.48 384.90,307.48 386.90,307.48 388.90,307.48 390.90,307.49 392.90,307.49 394.90,307.49 396.90,307.49 398.90,307.49 400.90,307.49 402.90,307.49 404.90,307.49 406.90,307.49 408.90,307.49 410.90,307.49 412.90,307.49 414.90,307.49 416.90,307.49 418.90,307.49 420.90,307.49 422.90,307.49 424.90,307.49 426.90,307.49 428.90,307.49 430.90,307.50 432.90,307.50 434.90,307.50 436.90,307.50 438.90,307.50 440.90,307.50 442.90,307.50 444.90,307.50 446.90,307.50 448.90,307.50 450.90,307.50 452.90,307.50 454.90,307.50 456.90,307.50 458.90,307.50 460.90,307.50 462.90,307.50 464.90,307.50 466.90,307.50 468.90,307.50 470.90,307.50 472.90,307.50 474.90,307.50 476.90,307.50 478.90,307.50 480.90,307.50 482.90,307.50 484.90,307.50 486.90,307.50 488.90,307.50 490.90,307.50 492.90,307.50 494.90,307.50 496.90,307.50 498.90,307.50 500.90,307.50 502.90,307.50 504.90,307.50 506.90,307.50 508.90,307.50 510.90,307.50 512.90,307.50 514.90,307.50 516.90,307.50 518.90,307.50 520.90,307.50 522.90,307.50 524.90,307.50 526.90,307.50 528.90,307.50 530.90,307.50 532.90,307.50 534.90,307.50 536.90,307.50 538.90,307.50 540.90,307.50 542.90,307.50 544.90,307.50 546.90,307.50 548.90,307.50 550.90,307.50 552.90,307.50 554.90,307.50 556.90,307.50 558.90,307.50 560.90,307.50 562.90,307.50 564.90,307.50 566.90,307.50 568.90,307.50 570.90,307.50 572.90,307.50 574.90,307.50 576.90,307.50 578.90,307.50 580.90,307.50 582.90,307.50 584.90,307.50 586.90,307.50 588.90,307.50 590.90,307.50 592.90,307.50 594.90,307.50 596.90,307.50 598.90,307.50 600.90,307.50 602.90,307.50 604.90,307.50 606.90,307.50 608.90,307.50 610.90,307.50 612.90,307.50 614.90,307.50 616.90,307.50 618.90,307.50 620.90,307.50 622.90,307.50 624.90,307.50 626.90,307.50 628.90,307.50 630.90,307.50 632.90,307.50 634.90,307.50 636.90,307.50 638.90,307.50 640.90,307.50 642.90,307.50 644.90,307.50 646.90,307.50 648.90,307.50 650.90,307.50 652.90,307.50 654.90,307.50 656.90,307.50 658.90,307.50 660.90,307.50 662.90,307.50 663.50,307.50"/>
<path d="M46.90,307.50 48.90,307.50 50.90,307.50 52.90,307.50 54.90,307.50 56.90,307.50 58.90,307.50 60.90,307.50 62.90,307.50 64.90,307.50 66.90,307.50 68.90,307.50 70.90,307.50 72.90,307.50 74.90,307.50 76.90,307.50 78.90,307.50 80.90,307.50 82.90,307.50 84.90,307.50 86.90,307.50 88.90,307.50 90.90,307.50 92.90,307.50 94.90,307.50 96.90,307.50 98.90,307.50 100.90,307.50 102.90,307.50 104.90,307.50 106.90,307.50 108.90,307.50 110.90,307.50 112.90,307.50 114.90,307.50 116.90,307.50 118.90,307.50 120.90,307.50 122.90,307.50 124.90,307.50 126.90,307.50 128.90,307.50 130.90,307.50 132.90,307.50 134.90,307.50 136.90,307.50 138.90,307.50 140.90,307.50 142.90,307.50 144.90,307.50 146.90,307.50 148.90,307.50 150.90,307.50 152.90,307.50 154.90,307.50 156.90,307.50 158.90,307.50 160.90,307.50 162.90,307.50 164.90,307.50 166.90,307.50 168.90,307.50 170.90,307.50 172.90,307.50 174.90,307.50 176.90,307.50 178.90,307.50 180.90,307.50 182.90,307.50 184.90,307.50 186.90,307.50 188.90,307.50 190.90,307.50 192.90,307.50 194.90,307.50 196.90,307.50 198.90,307.50 200.90,307.50 202.90,307.50 204.90,307.50 206.90,307.50 208.90,307.50 210.90,307.49 212.90,307.49 214.90,307.49 216.90,307.49 218.90,307.49 220.90,307.49 222.90,307.49 224.90,307.49 226.90,307.49 228.90,307.49 230.90,307.49 232.90,307.49 234.90,307.49 236.90,307.49 238.90,307.49 240.90,307.49 242.90,307.49 244.90,307.49 246.90,307.49 248.90,307.49 250.90,307.49 252.90,307.49 254.90,307.49 256.90,307.49 258.90,307.49 260.90,307.48 262.90,307.48 264.90,307.48 266.90,307.48 268.90,307.48 270.90,307.48 272.90,307.48 274.90,307.48 276.90,307.47 278.90,307.47 280.90,307.47 282.90,307.47 284.90,307.47 286.90,307.46 288.90,307.46 290.90,307.45 292.90,307.45 294.90,307.44 296.90,307.44 298.90,307.43 300.90,307.42 302.90,307.41 304.90,307.39 306.90,307.37 308.90,307.35 310.90,307.32 311.20,307.31 311.50,307.31 311.79,307.30 312.09,307.30 312.38,307.29 312.66,307.28 312.90,307.28 313.23,307.27 313.50,307.26 313.78,307.26 314.05,307.25 314.32,307.24 314.59,307.23 314.85,307.22 315.11,307.21 315.37,307.20 315.63,307.19 315.88,307.18 316.13,307.17 316.38,307.16 316.62,307.15 316.86,307.14 317.10,307.13 317.34,307.11 317.57,307.10 317.80,307.09 318.03,307.07 318.26,307.06 318.48,307.04 318.70,307.03 318.90,307.01 319.13,306.99 319.35,306.97 319.56,306.95 319.76,306.93 319.97,306.91 320.17,306.89 320.37,306.87 320.57,306.84 320.77,306.82 320.96,306.79 321.15,306.77 321.34,306.74 321.52,306.71 321.71,306.68 321.89,306.65 322.07,306.61 322.25,306.58 322.42,306.54 322.59,306.50 322.76,306.46 322.93,306.42 323.10,306.37 323.26,306.33 323.42,306.28 323.58,306.23 323.74,306.17 323.89,306.12 324.04,306.06 324.19,306.00 324.49,305.86 324.77,305.71 325.05,305.55 325.32,305.37 325.58,305.17 325.83,304.94 326.08,304.70 326.32,304.42 326.43,304.27 326.55,304.11 326.66,303.94 326.77,303.76 326.88,303.57 326.99,303.37 327.09,303.16 327.20,302.94 327.30,302.70 327.40,302.45 327.50,302.18 327.59,301.90 327.69,301.60 327.78,301.28 327.87,300.94 327.96,300.58 328.05,300.20 328.14,299.79 328.22,299.36 328.31,298.89 328.39,298.40 328.47,297.87 328.55,297.31 328.62,296.72 328.70,296.08 328.77,295.40 328.85,294.67 328.90,294.10 328.92,293.89 328.99,293.06 329.06,292.17 329.12,291.22 329.19,290.21 329.25,289.12 329.32,287.96 329.38,286.72 329.44,285.37 329.50,283.96 329.55,282.41 329.61,280.77 329.67,279.01 329.72,277.15 329.77,275.11 329.82,272.95 329.87,270.67 329.92,268.18 329.97,265.56 330.01,262.68 330.06,259.65 330.10,256.41 330.14,253.03 330.19,249.32 330.23,245.46 330.27,241.23 330.31,236.85 330.34,232.21 330.38,227.15 330.41,221.94 330.45,216.45 330.48,210.69 330.51,204.66 330.55,198.15 330.57,191.60 330.60,184.82 330.63,177.58 330.66,170.41 330.69,162.81 330.71,155.39 330.74,147.61 330.76,139.79 330.78,131.99 330.81,124.27 330.83,116.32 330.85,108.92 330.87,101.38 330.89,94.12 330.90,89.12 330.91,86.80 330.92,79.86 330.94,73.72 330.96,67.25 330.97,61.63 330.99,56.12 331.00,51.11 331.01,46.26 331.03,41.93 331.04,38.09 331.05,34.43 331.06,31.24 331.07,28.50 331.08,25.92 331.09,23.51 331.10,21.49 331.11,19.82 331.12,18.28 331.13,16.87 331.13,15.89 331.14,14.86 331.14,14.05 331.15,13.33 331.16,12.78 331.16,12.30 331.17,11.95 331.17,11.57 331.17,11.36 331.18,11.13 331.18,10.97 331.19,10.77 331.19,10.58 331.21,10.77 331.22,10.97 331.22,11.13 331.23,11.36 331.23,11.57 331.24,11.95 331.24,12.30 331.24,12.78 331.25,13.33 331.25,14.05 331.26,14.86 331.27,15.74 331.27,16.87 331.28,18.28 331.29,19.82 331.30,21.49 331.31,23.51 331.32,25.92 331.33,28.50 331.34,31.24 331.35,34.43 331.36,38.09 331.37,41.93 331.38,46.26 331.40,51.11 331.41,56.12 331.43,61.63 331.44,67.25 331.46,73.72 331.48,79.86 331.49,86.80 331.51,93.73 331.53,101.38 331.55,108.92 331.57,116.32 331.59,124.27 331.62,131.99 331.64,139.79 331.66,147.61 331.69,155.39 331.71,162.81 331.74,170.41 331.77,177.58 331.80,184.82 331.82,191.60 331.86,198.15 331.89,204.66 331.92,210.69 331.95,216.45 331.99,221.94 332.02,227.15 332.06,232.21 332.10,236.85 332.13,241.23 332.17,245.46 332.21,249.32 332.25,253.03 332.30,256.41 332.34,259.65 332.39,262.68 332.43,265.56 332.48,268.18 332.53,270.67 332.58,272.95 332.63,275.11 332.68,277.15 332.74,279.01 332.79,280.77 332.85,282.41 332.90,283.85 332.96,285.37 333.02,286.70 333.08,287.96 333.15,289.12 333.21,290.21 333.28,291.22 333.34,292.17 333.41,293.06 333.48,293.89 333.55,294.67 333.63,295.40 333.70,296.08 333.78,296.72 333.85,297.31 333.93,297.87 334.01,298.40 334.09,298.89 334.18,299.36 334.26,299.79 334.35,300.20 334.44,300.58 334.53,300.94 334.62,301.28 334.71,301.60 334.81,301.90 334.90,302.17 335.00,302.45 335.10,302.70 335.20,302.94 335.31,303.16 335.41,303.37 335.52,303.57 335.63,303.76 335.74,303.94 335.85,304.11 335.97,304.27 336.08,304.42 336.32,304.70 336.57,304.94 336.82,305.17 337.08,305.37 337.35,305.55 337.63,305.71 337.91,305.86 338.21,306.00 338.51,306.12 338.67,306.17 338.82,306.23 338.98,306.28 339.14,306.33 339.30,306.37 339.47,306.42 339.64,306.46 339.81,306.50 339.98,306.54 340.15,306.58 340.33,306.61 340.51,306.65 340.69,306.68 340.88,306.71 341.06,306.74 341.25,306.77 341.44,306.79 341.63,306.82 341.83,306.84 342.03,306.87 342.23,306.89 342.43,306.91 342.64,306.93 342.84,306.95 343.05,306.97 343.27,306.99 343.48,307.01 343.70,307.03 343.92,307.04 344.14,307.06 344.37,307.07 344.60,307.09 344.83,307.10 345.06,307.11 345.30,307.13 345.54,307.14 345.78,307.15 346.02,307.16 346.27,307.17 346.52,307.18 346.77,307.19 347.03,307.20 347.29,307.21 347.55,307.22 347.81,307.23 348.08,307.24 348.35,307.25 348.62,307.26 348.89,307.26 349.17,307.27 349.45,307.28 349.74,307.28 350.02,307.29 350.31,307.30 350.61,307.30 350.90,307.31 351.20,307.31 352.90,307.34 354.90,307.37 356.90,307.39 358.90,307.40 360.90,307.42 362.90,307.43 364.90,307.43 366.90,307.44 368.90,307.45 370.90,307.45 372.90,307.46 374.90,307.46 376.90,307.46 378.90,307.47 380.90,307.47 382.90,307.47 384.90,307.47 386.90,307.48 388.90,307.48 390.90,307.48 392.90,307.48 394.90,307.48 396.90,307.48 398.90,307.48 400.90,307.48 402.90,307.49 404.90,307.49 406.90,307.49 408.90,307.49 410.90,307.49 412.90,307.49 414.90,307.49 416.90,307.49 418.90,307.49 420.90,307.49 422.90,307.49 424.90,307.49 426.90,307.49 428.90,307.49 430.90,307.49 432.90,307.49 434.90,307.49 436.90,307.49 438.90,307.49 440.90,307.49 442.90,307.49 444.90,307.49 446.90,307.49 448.90,307.49 450.90,307.49 452.90,307.49 454.90,307.50 456.90,307.50 458.90,307.50 460.90,307.50 462.90,307.50 464.90,307.50 466.90,307.50 468.90,307.50 470.90,307.50 472.90,307.50 474.90,307.50 476.90,307.50 478.90,307.50 480.90,307.50 482.90,307.50 484.90,307.50 486.90,307.50 488.90,307.50 490.90,307.50 492.90,307.50 494.90,307.50 496.90,307.50 498.90,307.50 500.90,307.50 502.90,307.50 504.90,307.50 506.90,307.50 508.90,307.50 510.90,307.50 512.90,307.50 514.90,307.50 516.90,307.50 518.90,307.50 520.90,307.50 522.90,307.50 524.90,307.50 526.90,307.50 528.90,307.50 530.90,307.50 532.90,307.50 534.90,307.50 536.90,307.50 538.90,307.50 540.90,307.50 542.90,307.50 544.90,307.50 546.90,307.50 548.90,307.50 550.90,307.50 552.90,307.50 554.90,307.50 556.90,307.50 558.90,307.50 560.90,307.50 562.90,307.50 564.90,307.50 566.90,307.50 568.90,307.50 570.90,307.50 572.90,307.50 574.90,307.50 576.90,307.50 578.90,307.50 580.90,307.50 582.90,307.50 584.90,307.50 586.90,307.50 588.90,307.50 590.90,307.50 592.90,307.50 594.90,307.50 596.90,307.50 598.90,307.50 600.90,307.50 602.90,307.50 604.90,307.50 606.90,307.50 608.90,307.50 610.90,307.50 612.90,307.50 614.90,307.50 616.90,307.50 618.90,307.50 620.90,307.50 622.90,307.50 624.90,307.50 626.90,307.50 628.90,307.50 630.90,307.50 632.90,307.50 634.90,307.50 636.90,307.50 638.90,307.50 640.90,307.50 642.90,307.50 644.90,307.50 646.90,307.50 648.90,307.50 650.90,307.50 652.90,307.50 654.90,307.50 656.90,307.50 658.90,307.50 660.90,307.50 662.90,307.50 663.50,307.50"/>
</g>
<g transform="translate(29.10,325.40) scale(1,1.0)" fill="#000" style="font-family:'Liberation Sans',sans-serif;font-size:16px;font-weight:bold"><path transform="translate(0.00,0) scale(0.00781,-0.00781)" d="M478,0L478,1150L50,960L50,1180L493,1409L759,1409L759,0Z"/><text x="8.90" y="0">520</text></g>
<g transform="translate(131.87,325.40) scale(1,1.0)" fill="#000" style="font-family:'Liberation Sans',sans-serif;font-size:16px;font-weight:bold"><path transform="translate(0.00,0) scale(0.00781,-0.00781)" d="M478,0L478,1150L50,960L50,1180L493,1409L759,1409L759,0Z"/><text x="8.90" y="0">525</text></g>
<g transform="translate(234.64,325.40) scale(1,1.0)" fill="#000" style="font-family:'Liberation Sans',sans-serif;font-size:16px;font-weight:bold"><path transform="translate(0.00,0) scale(0.00781,-0.00781)" d="M478,0L478,1150L50,960L50,1180L493,1409L759,1409L759,0Z"/><text x="8.90" y="0">530</text></g>
<g transform="translate(337.40,325.40) scale(1,1.0)" fill="#000" style="font-family:'Liberation Sans',sans-serif;font-size:16px;font-weight:bold"><path transform="translate(0.00,0) scale(0.00781,-0.00781)" d="M478,0L478,1150L50,960L50,1180L493,1409L759,1409L759,0Z"/><text x="8.90" y="0">535</text></g>
<g transform="translate(440.17,325.40) scale(1,1.0)" fill="#000" style="font-family:'Liberation Sans',sans-serif;font-size:16px;font-weight:bold"><path transform="translate(0.00,0) scale(0.00781,-0.00781)" d="M478,0L478,1150L50,960L50,1180L493,1409L759,1409L759,0Z"/><text x="8.90" y="0">540</text></g>
<g transform="translate(542.94,325.40) scale(1,1.0)" fill="#000" style="font-family:'Liberation Sans',sans-serif;font-size:16px;font-weight:bold"><path transform="translate(0.00,0) scale(0.00781,-0.00781)" d="M478,0L478,1150L50,960L50,1180L493,1409L759,1409L759,0Z"/><text x="8.90" y="0">545</text></g>
<g transform="translate(645.70,325.40) scale(1,1.0)" fill="#000" style="font-family:'Liberation Sans',sans-serif;font-size:16px;font-weight:bold"><path transform="translate(0.00,0) scale(0.00781,-0.00781)" d="M478,0L478,1150L50,960L50,1180L493,1409L759,1409L759,0Z"/><text x="8.90" y="0">550</text></g>
<g transform="translate(34.90,313.50) scale(1,1.0)" fill="#000" style="font-family:'Liberation Sans',sans-serif;font-size:16px;font-weight:bold"><text x="0.00" y="0">0</text></g>
<g transform="translate(21.56,254.10) scale(1,1.0)" fill="#000" style="font-family:'Liberation Sans',sans-serif;font-size:16px;font-weight:bold"><text x="0.00" y="0">0.2</text></g>
<g transform="translate(21.56,194.70) scale(1,1.0)" fill="#000" style="font-family:'Liberation Sans',sans-serif;font-size:16px;font-weight:bold"><text x="0.00" y="0">0.4</text></g>
<g transform="translate(21.56,135.30) scale(1,1.0)" fill="#000" style="font-family:'Liberation Sans',sans-serif;font-size:16px;font-weight:bold"><text x="0.00" y="0">0.6</text></g>
<g transform="translate(21.56,75.90) scale(1,1.0)" fill="#000" style="font-family:'Liberation Sans',sans-serif;font-size:16px;font-weight:bold"><text x="0.00" y="0">0.8</text></g>
<g transform="translate(34.90,16.50) scale(1,1.0)" fill="#000" style="font-family:'Liberation Sans',sans-serif;font-size:16px;font-weight:bold"><path transform="translate(0.00,0) scale(0.00781,-0.00781)" d="M478,0L478,1150L50,960L50,1180L493,1409L759,1409L759,0Z"/></g>
<g style="font-family:'Liberation Sans',sans-serif;font-weight:bold;font-size:16px" fill="#000">
<text x="81.6" y="43.2" stroke="#000" stroke-width="0.5" style="font-weight:normal">(a)</text>
<text x="341.8" y="341.7">(nm)</text>
<text transform="translate(14.4,159.6) rotate(-90)" text-anchor="middle">T</text>
</g>
<g transform="translate(332.8,341.9) scale(1,0.8)"><text x="0" y="0" style="font-family:'Liberation Serif',serif;font-size:16px">&#955;</text></g>
<g stroke="#8e8aa8" stroke-width="1.2" fill="none">
<path d="M36.6,389.5V669.5"/>
<path d="M36.6,669.50H42.6M633.5,669.50H627.5"/>
<path d="M36.6,529.50H42.6M633.5,529.50H627.5"/>
</g>
<g stroke="#84a284" stroke-width="1" fill="none">
<path d="M633.5,386.5V674.5"/>
<path d="M633.5,674.50H627.5"/>
<path d="M633.5,530.50H627.5"/>
<path d="M633.5,386.50H627.5"/>
</g>
<g stroke="#6a6a6a" stroke-width="1" fill="none">
<path d="M36.1,389.5H633.5M36.6,669.5H633.5M36.6,674.5H633.5"/>
<path d="M86.34,389.5V395.0M86.34,669.5V663.5"/>
<path d="M185.82,389.5V395.0M185.82,669.5V663.5"/>
<path d="M285.31,389.5V395.0M285.31,669.5V663.5"/>
<path d="M384.79,389.5V395.0M384.79,669.5V663.5"/>
<path d="M484.27,389.5V395.0M484.27,669.5V663.5"/>
<path d="M583.76,389.5V395.0M583.76,669.5V663.5"/>
</g>
<path d="M78.90,386.90 121.53,386.90 164.16,386.90 206.79,386.90 249.42,386.90 292.05,387.00 334.68,387.50" fill="none" stroke="#008000" stroke-width="1.5" stroke-dasharray="4.5,2.8"/>
<path d="M334.68,387.50 377.31,389.00 419.94,397.90 462.57,390.20 505.20,420.90 547.83,596.50 590.46,664.40" fill="none" stroke="#008000" stroke-width="2.0" stroke-dasharray="4.8,2.8"/>
<circle cx="78.90" cy="386.90" r="2.5" fill="none" stroke="#008000" stroke-width="1.5"/>
<circle cx="121.53" cy="386.90" r="2.5" fill="none" stroke="#008000" stroke-width="1.5"/>
<circle cx="164.16" cy="386.90" r="2.5" fill="none" stroke="#008000" stroke-width="1.5"/>
<circle cx="206.79" cy="386.90" r="2.5" fill="none" stroke="#008000" stroke-width="1.5"/>
<circle cx="249.42" cy="386.90" r="2.5" fill="none" stroke="#008000" stroke-width="1.5"/>
<circle cx="292.05" cy="387.00" r="2.5" fill="none" stroke="#008000" stroke-width="1.5"/>
<rect x="331.48" y="384.30" width="6.4" height="6.4" rx="1.8" fill="#008000"/>
<rect x="374.11" y="385.80" width="6.4" height="6.4" rx="1.8" fill="#008000"/>
<rect x="416.74" y="394.70" width="6.4" height="6.4" rx="1.8" fill="#008000"/>
<rect x="459.37" y="387.00" width="6.4" height="6.4" rx="1.8" fill="#008000"/>
<rect x="502.00" y="417.70" width="6.4" height="6.4" rx="1.8" fill="#008000"/>
<rect x="544.63" y="593.30" width="6.4" height="6.4" rx="1.8" fill="#008000"/>
<rect x="587.26" y="661.20" width="6.4" height="6.4" rx="1.8" fill="#008000"/>
<path d="M36.60,668.60 86.34,668.70 136.08,668.50 185.82,668.30 235.57,667.20 285.31,664.50 335.05,656.60 384.79,632.90 434.53,579.00 484.27,400.50 534.02,400.50 583.76,400.50 633.50,400.50" fill="none" stroke="#0000f0" stroke-width="2" stroke-dasharray="5,2.3"/>
<circle cx="36.60" cy="668.60" r="2.4" fill="none" stroke="#0000ff" stroke-width="1.8"/>
<circle cx="86.34" cy="668.70" r="2.4" fill="none" stroke="#0000ff" stroke-width="1.8"/>
<circle cx="136.08" cy="668.50" r="2.4" fill="none" stroke="#0000ff" stroke-width="1.8"/>
<circle cx="185.82" cy="668.30" r="2.4" fill="none" stroke="#0000ff" stroke-width="1.8"/>
<circle cx="235.57" cy="667.20" r="2.4" fill="none" stroke="#0000ff" stroke-width="1.8"/>
<circle cx="285.31" cy="664.50" r="2.4" fill="none" stroke="#0000ff" stroke-width="1.8"/>
<circle cx="335.05" cy="656.60" r="2.4" fill="none" stroke="#0000ff" stroke-width="1.8"/>
<circle cx="384.79" cy="632.90" r="2.4" fill="none" stroke="#0000ff" stroke-width="1.8"/>
<circle cx="434.53" cy="579.00" r="2.4" fill="none" stroke="#0000ff" stroke-width="1.8"/>
<circle cx="484.27" cy="400.50" r="3" fill="#0000ff"/>
<circle cx="534.02" cy="400.50" r="3" fill="#0000ff"/>
<circle cx="583.76" cy="400.50" r="3" fill="#0000ff"/>
<circle cx="633.50" cy="400.50" r="3" fill="#0000ff"/>
<g transform="translate(81.06,688.60) scale(1,1.1)" fill="#000" stroke="#000" stroke-width="0.5" style="font-family:'Liberation Sans',sans-serif;font-size:19px;font-weight:normal"><text x="0.00" y="0">4</text></g>
<g transform="translate(180.54,688.60) scale(1,1.1)" fill="#000" stroke="#000" stroke-width="0.5" style="font-family:'Liberation Sans',sans-serif;font-size:19px;font-weight:normal"><text x="0.00" y="0">6</text></g>
<g transform="translate(280.02,688.60) scale(1,1.1)" fill="#000" stroke="#000" stroke-width="0.5" style="font-family:'Liberation Sans',sans-serif;font-size:19px;font-weight:normal"><text x="0.00" y="0">8</text></g>
<g transform="translate(374.22,688.60) scale(1,1.1)" fill="#000" stroke="#000" stroke-width="0.5" style="font-family:'Liberation Sans',sans-serif;font-size:19px;font-weight:normal"><path transform="translate(0.00,0) scale(0.00928,-0.00928)" d="M420,0L420,1190L100,1010L100,1180L450,1409L610,1409L610,0Z"/><text x="10.57" y="0">0</text></g>
<g transform="translate(473.71,688.60) scale(1,1.1)" fill="#000" stroke="#000" stroke-width="0.5" style="font-family:'Liberation Sans',sans-serif;font-size:19px;font-weight:normal"><path transform="translate(0.00,0) scale(0.00928,-0.00928)" d="M420,0L420,1190L100,1010L100,1180L450,1409L610,1409L610,0Z"/><text x="10.57" y="0">2</text></g>
<g transform="translate(573.19,688.60) scale(1,1.1)" fill="#000" stroke="#000" stroke-width="0.5" style="font-family:'Liberation Sans',sans-serif;font-size:19px;font-weight:normal"><path transform="translate(0.00,0) scale(0.00928,-0.00928)" d="M420,0L420,1190L100,1010L100,1180L450,1409L610,1409L610,0Z"/><text x="10.57" y="0">4</text></g>
<g transform="translate(23.63,396.00) scale(1,1.1)" fill="#0000ff" stroke="#0000ff" stroke-width="0.5" style="font-family:'Liberation Sans',sans-serif;font-size:19px;font-weight:normal"><text x="0.00" y="0">4</text></g>
<g transform="translate(23.83,536.30) scale(1,1.1)" fill="#0000ff" stroke="#0000ff" stroke-width="0.5" style="font-family:'Liberation Sans',sans-serif;font-size:19px;font-weight:normal"><text x="0.00" y="0">2</text></g>
<g transform="translate(23.43,676.20) scale(1,1.1)" fill="#0000ff" stroke="#0000ff" stroke-width="0.5" style="font-family:'Liberation Sans',sans-serif;font-size:19px;font-weight:normal"><text x="0.00" y="0">0</text></g>
<g transform="translate(635.20,393.70) scale(1,1.1)" fill="#008000" stroke="#008000" stroke-width="0.5" style="font-family:'Liberation Sans',sans-serif;font-size:19px;font-weight:normal"><path transform="translate(0.00,0) scale(0.00928,-0.00928)" d="M420,0L420,1190L100,1010L100,1180L450,1409L610,1409L610,0Z"/></g>
<g transform="translate(635.30,537.00) scale(1,1.1)" fill="#008000" stroke="#008000" stroke-width="0.5" style="font-family:'Liberation Sans',sans-serif;font-size:19px;font-weight:normal"><text x="0.00" y="0">0.5</text></g>
<g transform="translate(635.00,680.70) scale(1,1.1)" fill="#008000" stroke="#008000" stroke-width="0.5" style="font-family:'Liberation Sans',sans-serif;font-size:19px;font-weight:normal"><text x="0.00" y="0">0</text></g>
<g fill="#0000ff" stroke="#0000ff" stroke-width="0.45" style="font-family:'Liberation Sans',sans-serif;font-size:19px">
<g transform="translate(36.4,385.4) scale(1,1.05)"><text x="0" y="0" style="font-size:17.5px">x</text></g>
</g>
<g transform="translate(51.05,385.40) scale(1,1.08)" fill="#0000ff" stroke="#0000ff" stroke-width="0.45" style="font-family:'Liberation Sans',sans-serif;font-size:19px;font-weight:normal"><path transform="translate(0.00,0) scale(0.00928,-0.00928)" d="M420,0L420,1190L100,1010L100,1180L450,1409L610,1409L610,0Z"/><text x="10.57" y="0">0</text></g>
<g transform="translate(74.6,372.8) scale(1,1.08)" fill="#0000ff" stroke="#0000ff" stroke-width="0.2" style="font-family:'Liberation Sans',sans-serif;font-size:11.5px"><text x="0" y="0">6</text></g>
<text x="70.5" y="417.5" stroke="#000" stroke-width="0.5" style="font-family:'Liberation Sans',sans-serif;font-size:16px">(b)</text>
<text x="334.6" y="707.7" text-anchor="middle" style="font-family:'Liberation Sans',sans-serif;font-weight:bold;font-size:19.75px">N (number of periods)</text>
<text transform="translate(15.6,528.35) rotate(-90) scale(1.02,1)" text-anchor="middle" style="font-family:'Liberation Sans',sans-serif;font-weight:bold;font-size:19.5px" fill="#0000f0">Quality factor</text>
<text transform="translate(680.8,529.9) rotate(-90) scale(1.045,1)" text-anchor="middle" style="font-family:'Liberation Sans',sans-serif;font-weight:bold;font-size:19px" fill="#008000">transmission peak value</text>
</svg>
</body></html>
